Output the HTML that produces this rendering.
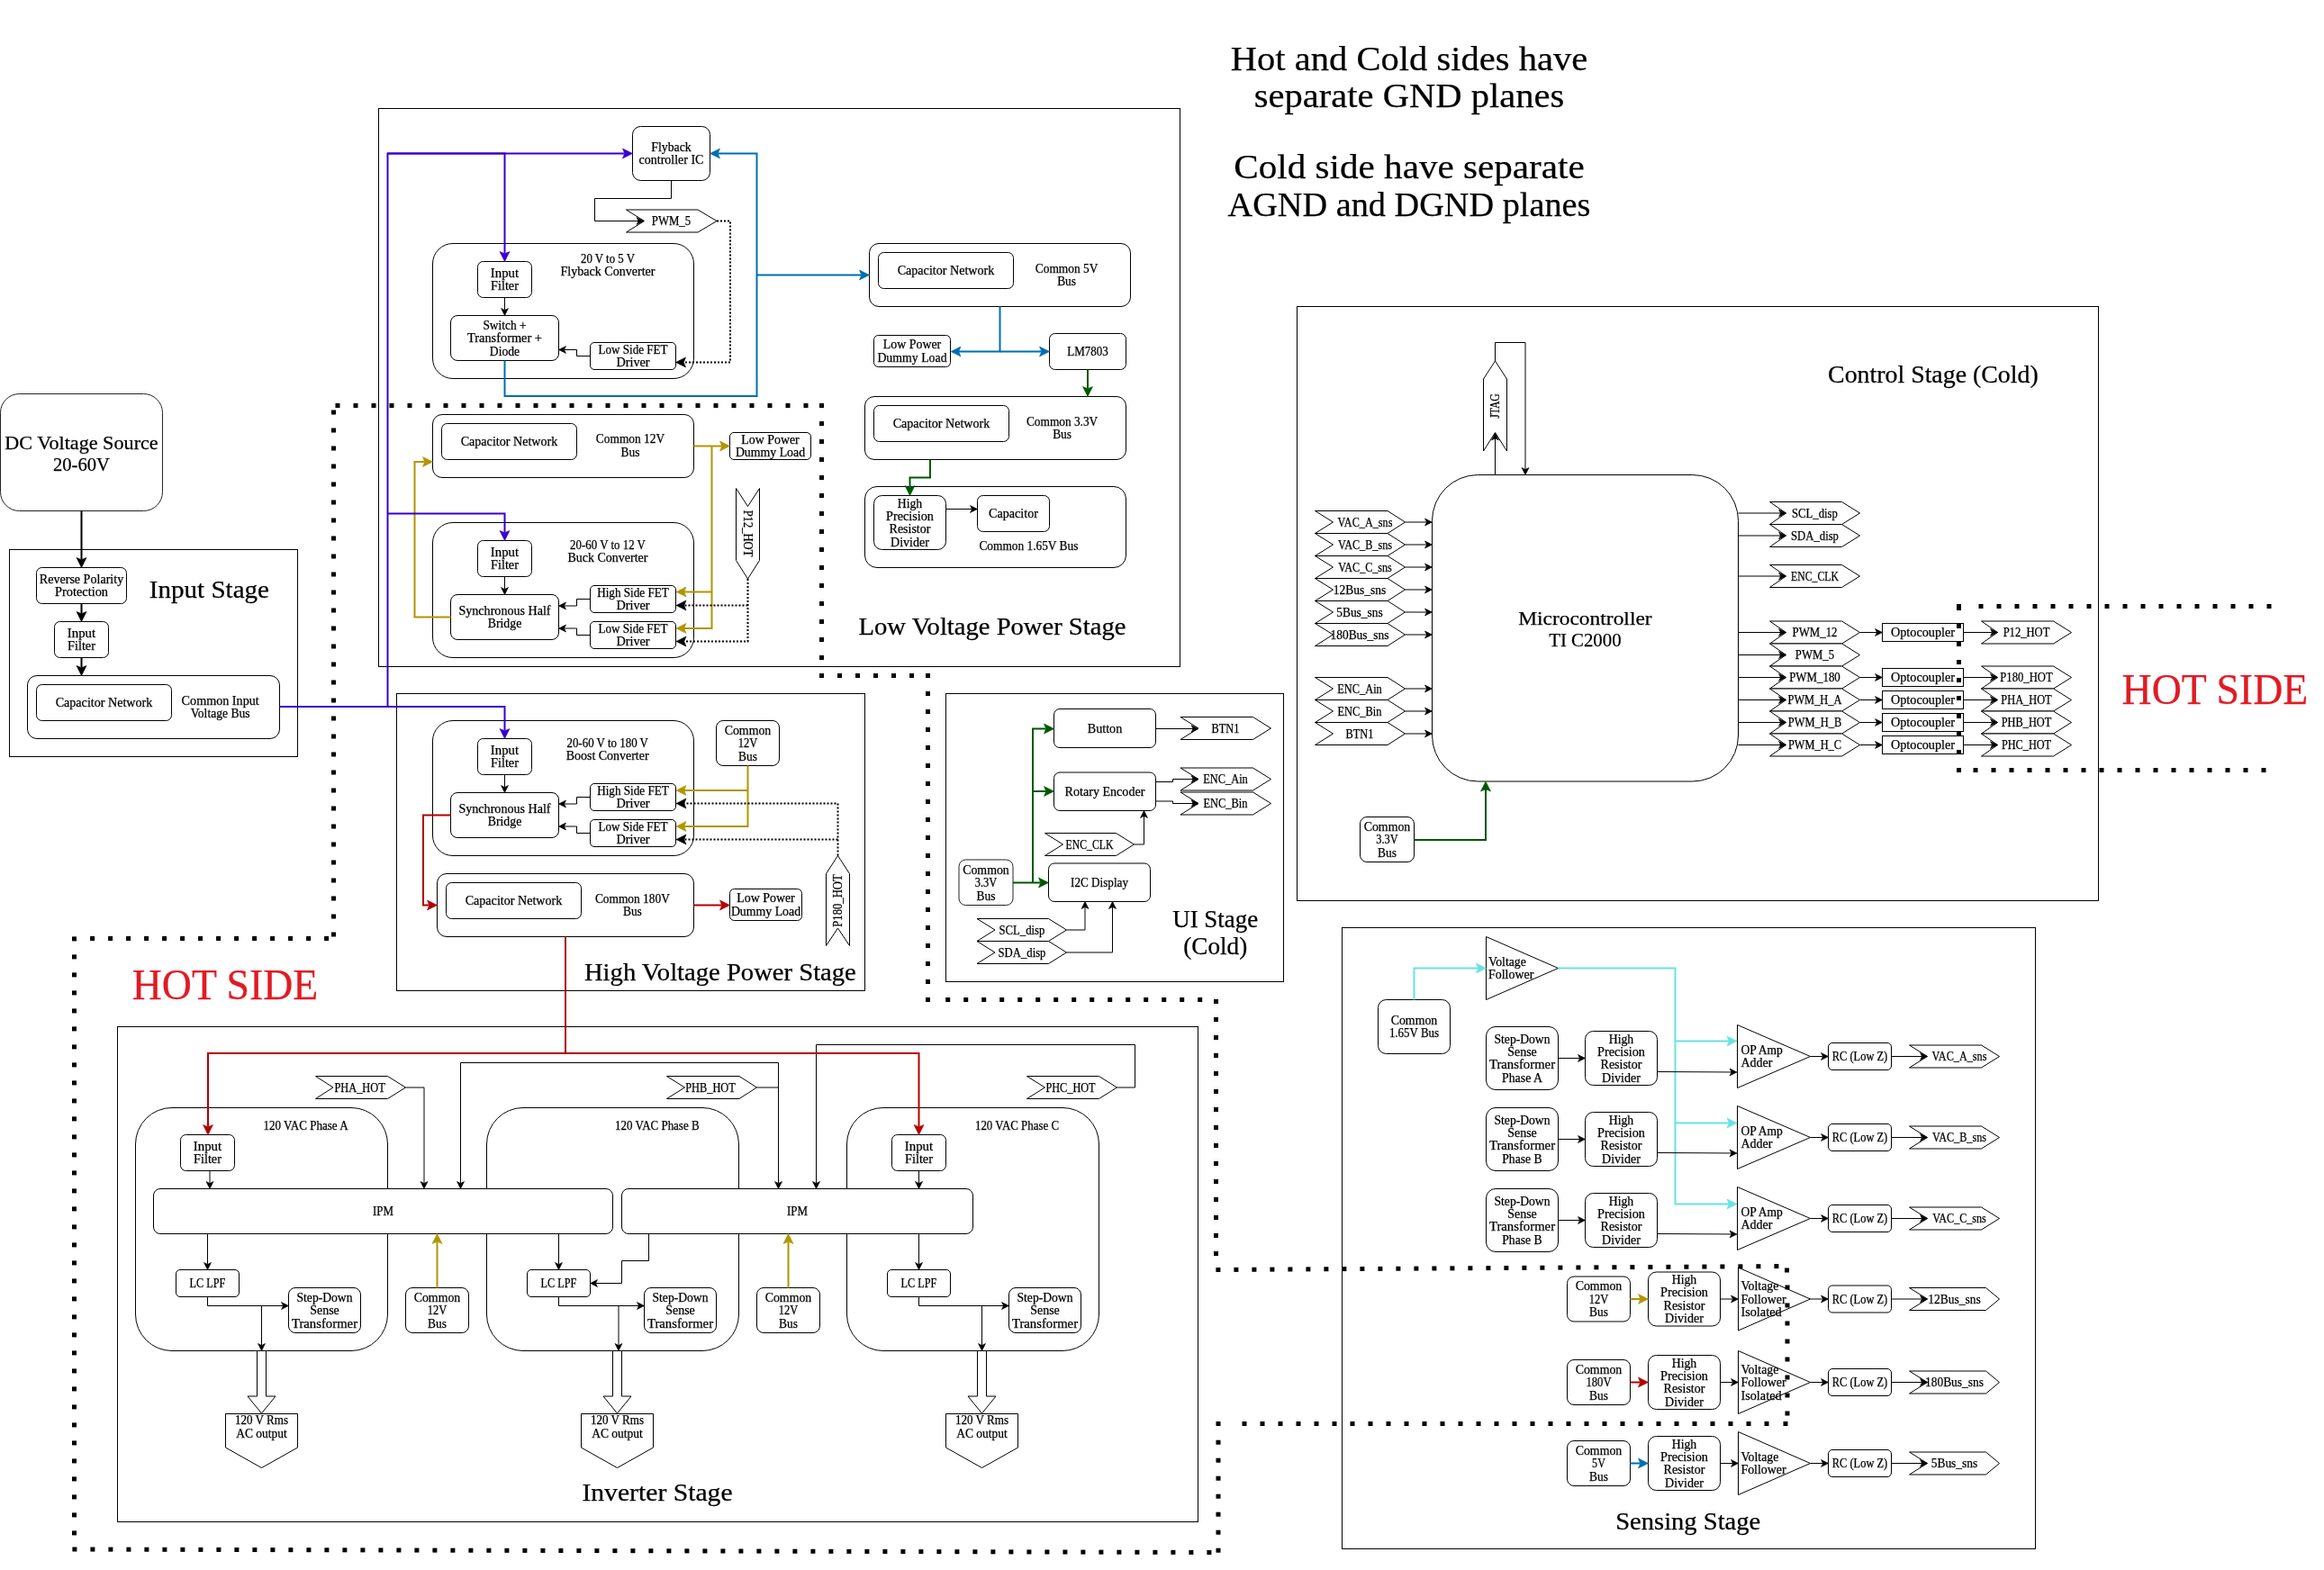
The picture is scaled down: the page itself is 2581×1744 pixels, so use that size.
<!DOCTYPE html>
<html><head><meta charset="utf-8"><style>
html,body{margin:0;padding:0;background:#fff;}
svg{display:block;will-change:transform;}
text{font-family:"Liberation Serif",serif;stroke-width:0.25px;}
</style></head><body>
<svg width="2581" height="1744" viewBox="0 0 2581 1744">
<rect x="0" y="0" width="2581" height="1744" fill="#fff"/>
<text x="1565" y="78.1" font-size="38.88" text-anchor="middle" fill="#000" stroke="#000" textLength="396.4" lengthAdjust="spacingAndGlyphs">Hot and Cold sides have</text>
<text x="1565" y="119.4" font-size="38.88" text-anchor="middle" fill="#000" stroke="#000" textLength="344.6" lengthAdjust="spacingAndGlyphs">separate GND planes</text>
<text x="1565" y="197.6" font-size="38.88" text-anchor="middle" fill="#000" stroke="#000" textLength="389.6" lengthAdjust="spacingAndGlyphs">Cold side have separate</text>
<text x="1565" y="240.2" font-size="38.88" text-anchor="middle" fill="#000" stroke="#000" textLength="403" lengthAdjust="spacingAndGlyphs">AGND and DGND planes</text>
<rect x="0.5" y="437.5" width="180.0" height="130.0" rx="21" ry="21" fill="#fff" stroke="#222" stroke-width="1"/>
<text x="90.5" y="499" font-size="22.0" text-anchor="middle" fill="#000" stroke="#000" textLength="170.4" lengthAdjust="spacingAndGlyphs">DC Voltage Source</text>
<text x="90.5" y="522.8" font-size="22.0" text-anchor="middle" fill="#000" stroke="#000" textLength="63" lengthAdjust="spacingAndGlyphs">20-60V</text>
<rect x="10.5" y="610.5" width="320.0" height="230.0" rx="0" ry="0" fill="none" stroke="#000" stroke-width="1"/>
<rect x="40.5" y="630.5" width="100.0" height="40.0" rx="6" ry="6" fill="#fff" stroke="#000" stroke-width="1"/>
<text font-size="13.92" text-anchor="middle" fill="#000" stroke="#000"><tspan x="90.5" y="647.96" textLength="93.42" lengthAdjust="spacingAndGlyphs">Reverse Polarity</tspan><tspan x="90.5" y="662.36" textLength="59.11" lengthAdjust="spacingAndGlyphs">Protection</tspan></text>
<text x="232.4" y="664" font-size="26.4" text-anchor="middle" fill="#000" stroke="#000" textLength="133.2" lengthAdjust="spacingAndGlyphs">Input Stage</text>
<rect x="60.5" y="690.5" width="60.0" height="40.0" rx="6" ry="6" fill="#fff" stroke="#000" stroke-width="1"/>
<text font-size="13.92" text-anchor="middle" fill="#000" stroke="#000"><tspan x="90.5" y="707.96" textLength="31.36" lengthAdjust="spacingAndGlyphs">Input</tspan><tspan x="90.5" y="722.36" textLength="30.94" lengthAdjust="spacingAndGlyphs">Filter</tspan></text>
<rect x="30.5" y="750.5" width="280.0" height="70.0" rx="10.5" ry="10.5" fill="#fff" stroke="#000" stroke-width="1"/>
<rect x="40.5" y="760.5" width="150.0" height="40.0" rx="6" ry="6" fill="#fff" stroke="#000" stroke-width="1"/>
<text font-size="13.92" text-anchor="middle" fill="#000" stroke="#000"><tspan x="115.5" y="785.16" textLength="107.66" lengthAdjust="spacingAndGlyphs">Capacitor Network</tspan></text>
<text font-size="13.92" text-anchor="middle" fill="#000" stroke="#000"><tspan x="244.7" y="782.96" textLength="86.12" lengthAdjust="spacingAndGlyphs">Common Input</tspan><tspan x="244.7" y="797.36" textLength="65.89" lengthAdjust="spacingAndGlyphs">Voltage Bus</tspan></text>
<rect x="420.5" y="120.5" width="890.0" height="620.0" rx="0" ry="0" fill="none" stroke="#000" stroke-width="1"/>
<rect x="702.5" y="140.5" width="86.0" height="60.0" rx="9" ry="9" fill="#fff" stroke="#000" stroke-width="1"/>
<text font-size="13.92" text-anchor="middle" fill="#000" stroke="#000"><tspan x="745.5" y="167.96" textLength="44.64" lengthAdjust="spacingAndGlyphs">Flyback</tspan><tspan x="745.5" y="182.36" textLength="71.78" lengthAdjust="spacingAndGlyphs">controller IC</tspan></text>
<polygon points="695.5,233 775,233 796,245.5 775,258 695.5,258 715.5,245.5" fill="#fff" stroke="#000" stroke-width="1" stroke-linejoin="miter"/>
<text font-size="13.92" text-anchor="middle" fill="#000" stroke="#000"><tspan x="745.5" y="250.16" textLength="43.3" lengthAdjust="spacingAndGlyphs">PWM_5</tspan></text>
<rect x="480.5" y="270.5" width="290.0" height="150.0" rx="22.5" ry="22.5" fill="#fff" stroke="#000" stroke-width="1"/>
<text font-size="13.92" text-anchor="middle" fill="#000" stroke="#000"><tspan x="675" y="291.76" textLength="59.95" lengthAdjust="spacingAndGlyphs">20 V to 5 V</tspan><tspan x="675" y="306.16" textLength="105.11" lengthAdjust="spacingAndGlyphs">Flyback Converter</tspan></text>
<rect x="530.5" y="290.5" width="60.0" height="40.0" rx="6" ry="6" fill="#fff" stroke="#000" stroke-width="1"/>
<text font-size="13.92" text-anchor="middle" fill="#000" stroke="#000"><tspan x="560.5" y="307.96" textLength="31.36" lengthAdjust="spacingAndGlyphs">Input</tspan><tspan x="560.5" y="322.36" textLength="30.94" lengthAdjust="spacingAndGlyphs">Filter</tspan></text>
<rect x="500.5" y="350.5" width="120.0" height="50.0" rx="7.5" ry="7.5" fill="#fff" stroke="#000" stroke-width="1"/>
<text font-size="13.92" text-anchor="middle" fill="#000" stroke="#000"><tspan x="560.5" y="365.76" textLength="48.17" lengthAdjust="spacingAndGlyphs">Switch +</tspan><tspan x="560.5" y="380.16" textLength="82.92" lengthAdjust="spacingAndGlyphs">Transformer +</tspan><tspan x="560.5" y="394.56" textLength="33.28" lengthAdjust="spacingAndGlyphs">Diode</tspan></text>
<rect x="655.5" y="380.5" width="95.0" height="30.0" rx="4.5" ry="4.5" fill="#fff" stroke="#000" stroke-width="1"/>
<text font-size="13.92" text-anchor="middle" fill="#000" stroke="#000"><tspan x="703" y="392.96" textLength="77.06" lengthAdjust="spacingAndGlyphs">Low Side FET</tspan><tspan x="703" y="407.36" textLength="37.25" lengthAdjust="spacingAndGlyphs">Driver</tspan></text>
<rect x="965.5" y="270.5" width="290.0" height="70.0" rx="10.5" ry="10.5" fill="#fff" stroke="#000" stroke-width="1"/>
<rect x="975.5" y="280.5" width="150.0" height="40.0" rx="6" ry="6" fill="#fff" stroke="#000" stroke-width="1"/>
<text font-size="13.92" text-anchor="middle" fill="#000" stroke="#000"><tspan x="1050.5" y="305.16" textLength="107.66" lengthAdjust="spacingAndGlyphs">Capacitor Network</tspan></text>
<text font-size="13.92" text-anchor="middle" fill="#000" stroke="#000"><tspan x="1184.6" y="302.96" textLength="69.58" lengthAdjust="spacingAndGlyphs">Common 5V</tspan><tspan x="1184.6" y="317.36" textLength="20.89" lengthAdjust="spacingAndGlyphs">Bus</tspan></text>
<rect x="970.5" y="372.5" width="85.0" height="35.0" rx="5" ry="5" fill="#fff" stroke="#000" stroke-width="1"/>
<text font-size="13.92" text-anchor="middle" fill="#000" stroke="#000"><tspan x="1013" y="387.46" textLength="64.45" lengthAdjust="spacingAndGlyphs">Low Power</tspan><tspan x="1013" y="401.86" textLength="77.22" lengthAdjust="spacingAndGlyphs">Dummy Load</tspan></text>
<rect x="1165.5" y="370.5" width="85.0" height="40.0" rx="6" ry="6" fill="#fff" stroke="#000" stroke-width="1"/>
<text font-size="13.92" text-anchor="middle" fill="#000" stroke="#000"><tspan x="1208" y="395.16" textLength="45.58" lengthAdjust="spacingAndGlyphs">LM7803</tspan></text>
<rect x="960.5" y="440.5" width="290.0" height="70.0" rx="10.5" ry="10.5" fill="#fff" stroke="#000" stroke-width="1"/>
<rect x="970.5" y="450.5" width="150.0" height="40.0" rx="6" ry="6" fill="#fff" stroke="#000" stroke-width="1"/>
<text font-size="13.92" text-anchor="middle" fill="#000" stroke="#000"><tspan x="1045.5" y="475.16" textLength="107.66" lengthAdjust="spacingAndGlyphs">Capacitor Network</tspan></text>
<text font-size="13.92" text-anchor="middle" fill="#000" stroke="#000"><tspan x="1179.6" y="473.06" textLength="79.28" lengthAdjust="spacingAndGlyphs">Common 3.3V</tspan><tspan x="1179.6" y="487.46" textLength="20.89" lengthAdjust="spacingAndGlyphs">Bus</tspan></text>
<rect x="960.5" y="540.5" width="290.0" height="90.0" rx="13.5" ry="13.5" fill="#fff" stroke="#000" stroke-width="1"/>
<rect x="970.5" y="550.5" width="80.0" height="60.0" rx="9" ry="9" fill="#fff" stroke="#000" stroke-width="1"/>
<text font-size="13.92" text-anchor="middle" fill="#000" stroke="#000"><tspan x="1010.5" y="563.56" textLength="27.44" lengthAdjust="spacingAndGlyphs">High</tspan><tspan x="1010.5" y="577.96" textLength="52.98" lengthAdjust="spacingAndGlyphs">Precision</tspan><tspan x="1010.5" y="592.36" textLength="45.77" lengthAdjust="spacingAndGlyphs">Resistor</tspan><tspan x="1010.5" y="606.76" textLength="42.8" lengthAdjust="spacingAndGlyphs">Divider</tspan></text>
<rect x="1085.5" y="550.5" width="80.0" height="40.0" rx="6" ry="6" fill="#fff" stroke="#000" stroke-width="1"/>
<text font-size="13.92" text-anchor="middle" fill="#000" stroke="#000"><tspan x="1125.5" y="575.16" textLength="54.8" lengthAdjust="spacingAndGlyphs">Capacitor</tspan></text>
<text font-size="13.92" text-anchor="middle" fill="#000" stroke="#000"><tspan x="1142.4" y="611.16" textLength="109.98" lengthAdjust="spacingAndGlyphs">Common 1.65V Bus</tspan></text>
<text x="1102" y="705.4" font-size="26.4" text-anchor="middle" fill="#000" stroke="#000" textLength="296.8" lengthAdjust="spacingAndGlyphs">Low Voltage Power Stage</text>
<rect x="480.5" y="460.5" width="290.0" height="70.0" rx="10.5" ry="10.5" fill="#fff" stroke="#000" stroke-width="1"/>
<rect x="490.5" y="470.5" width="150.0" height="40.0" rx="6" ry="6" fill="#fff" stroke="#000" stroke-width="1"/>
<text font-size="13.92" text-anchor="middle" fill="#000" stroke="#000"><tspan x="565.5" y="495.16" textLength="107.66" lengthAdjust="spacingAndGlyphs">Capacitor Network</tspan></text>
<text font-size="13.92" text-anchor="middle" fill="#000" stroke="#000"><tspan x="700" y="492.46" textLength="76.28" lengthAdjust="spacingAndGlyphs">Common 12V</tspan><tspan x="700" y="506.86" textLength="20.89" lengthAdjust="spacingAndGlyphs">Bus</tspan></text>
<rect x="810.5" y="480.5" width="90.0" height="30.0" rx="4.5" ry="4.5" fill="#fff" stroke="#000" stroke-width="1"/>
<text font-size="13.92" text-anchor="middle" fill="#000" stroke="#000"><tspan x="855.5" y="492.96" textLength="64.45" lengthAdjust="spacingAndGlyphs">Low Power</tspan><tspan x="855.5" y="507.36" textLength="77.22" lengthAdjust="spacingAndGlyphs">Dummy Load</tspan></text>
<rect x="480.5" y="580.5" width="290.0" height="150.0" rx="22.5" ry="22.5" fill="#fff" stroke="#000" stroke-width="1"/>
<text font-size="13.92" text-anchor="middle" fill="#000" stroke="#000"><tspan x="675" y="609.66" textLength="83.8" lengthAdjust="spacingAndGlyphs">20-60 V to 12 V</tspan><tspan x="675" y="624.06" textLength="88.88" lengthAdjust="spacingAndGlyphs">Buck Converter</tspan></text>
<rect x="530.5" y="600.5" width="60.0" height="40.0" rx="6" ry="6" fill="#fff" stroke="#000" stroke-width="1"/>
<text font-size="13.92" text-anchor="middle" fill="#000" stroke="#000"><tspan x="560.5" y="617.96" textLength="31.36" lengthAdjust="spacingAndGlyphs">Input</tspan><tspan x="560.5" y="632.36" textLength="30.94" lengthAdjust="spacingAndGlyphs">Filter</tspan></text>
<rect x="500.5" y="660.5" width="120.0" height="50.0" rx="7.5" ry="7.5" fill="#fff" stroke="#000" stroke-width="1"/>
<text font-size="13.92" text-anchor="middle" fill="#000" stroke="#000"><tspan x="560.5" y="682.96" textLength="102.16" lengthAdjust="spacingAndGlyphs">Synchronous Half</tspan><tspan x="560.5" y="697.36" textLength="37.59" lengthAdjust="spacingAndGlyphs">Bridge</tspan></text>
<rect x="655.5" y="650.5" width="95.0" height="30.0" rx="4.5" ry="4.5" fill="#fff" stroke="#000" stroke-width="1"/>
<text font-size="13.92" text-anchor="middle" fill="#000" stroke="#000"><tspan x="703" y="662.96" textLength="79.75" lengthAdjust="spacingAndGlyphs">High Side FET</tspan><tspan x="703" y="677.36" textLength="37.25" lengthAdjust="spacingAndGlyphs">Driver</tspan></text>
<rect x="655.5" y="690.5" width="95.0" height="30.0" rx="4.5" ry="4.5" fill="#fff" stroke="#000" stroke-width="1"/>
<text font-size="13.92" text-anchor="middle" fill="#000" stroke="#000"><tspan x="703" y="702.96" textLength="77.06" lengthAdjust="spacingAndGlyphs">Low Side FET</tspan><tspan x="703" y="717.36" textLength="37.25" lengthAdjust="spacingAndGlyphs">Driver</tspan></text>
<polygon points="817.5,542.5 830.5,562.5 843.5,542.5 843.5,622.5 830.5,643 817.5,622.5" fill="#fff" stroke="#000" stroke-width="1" stroke-linejoin="miter"/>
<text font-size="13.92" text-anchor="middle" fill="#000" stroke="#000" transform="rotate(90 830.5 592.5)"><tspan x="830.5" y="597.16" textLength="51.72" lengthAdjust="spacingAndGlyphs">P12_HOT</tspan></text>
<rect x="440.5" y="770.5" width="520.0" height="330.0" rx="0" ry="0" fill="none" stroke="#000" stroke-width="1"/>
<rect x="480.5" y="800.5" width="290.0" height="150.0" rx="22.5" ry="22.5" fill="#fff" stroke="#000" stroke-width="1"/>
<text font-size="13.92" text-anchor="middle" fill="#000" stroke="#000"><tspan x="674.7" y="829.86" textLength="90.52" lengthAdjust="spacingAndGlyphs">20-60 V to 180 V</tspan><tspan x="674.7" y="844.26" textLength="91.81" lengthAdjust="spacingAndGlyphs">Boost Converter</tspan></text>
<rect x="530.5" y="820.5" width="60.0" height="40.0" rx="6" ry="6" fill="#fff" stroke="#000" stroke-width="1"/>
<text font-size="13.92" text-anchor="middle" fill="#000" stroke="#000"><tspan x="560.5" y="837.96" textLength="31.36" lengthAdjust="spacingAndGlyphs">Input</tspan><tspan x="560.5" y="852.36" textLength="30.94" lengthAdjust="spacingAndGlyphs">Filter</tspan></text>
<rect x="500.5" y="880.5" width="120.0" height="50.0" rx="7.5" ry="7.5" fill="#fff" stroke="#000" stroke-width="1"/>
<text font-size="13.92" text-anchor="middle" fill="#000" stroke="#000"><tspan x="560.5" y="902.96" textLength="102.16" lengthAdjust="spacingAndGlyphs">Synchronous Half</tspan><tspan x="560.5" y="917.36" textLength="37.59" lengthAdjust="spacingAndGlyphs">Bridge</tspan></text>
<rect x="655.5" y="870.5" width="95.0" height="30.0" rx="4.5" ry="4.5" fill="#fff" stroke="#000" stroke-width="1"/>
<text font-size="13.92" text-anchor="middle" fill="#000" stroke="#000"><tspan x="703" y="882.96" textLength="79.75" lengthAdjust="spacingAndGlyphs">High Side FET</tspan><tspan x="703" y="897.36" textLength="37.25" lengthAdjust="spacingAndGlyphs">Driver</tspan></text>
<rect x="655.5" y="910.5" width="95.0" height="30.0" rx="4.5" ry="4.5" fill="#fff" stroke="#000" stroke-width="1"/>
<text font-size="13.92" text-anchor="middle" fill="#000" stroke="#000"><tspan x="703" y="922.96" textLength="77.06" lengthAdjust="spacingAndGlyphs">Low Side FET</tspan><tspan x="703" y="937.36" textLength="37.25" lengthAdjust="spacingAndGlyphs">Driver</tspan></text>
<rect x="795.5" y="800.5" width="70.0" height="50.0" rx="7.5" ry="7.5" fill="#fff" stroke="#000" stroke-width="1"/>
<text font-size="13.92" text-anchor="middle" fill="#000" stroke="#000"><tspan x="830.5" y="815.76" textLength="51.64" lengthAdjust="spacingAndGlyphs">Common</tspan><tspan x="830.5" y="830.16" textLength="21.53" lengthAdjust="spacingAndGlyphs">12V</tspan><tspan x="830.5" y="844.56" textLength="20.89" lengthAdjust="spacingAndGlyphs">Bus</tspan></text>
<polygon points="930.5,950.5 943.5,970.5 943.5,1050.5 930.5,1031 917.5,1050.5 917.5,970.5" fill="#fff" stroke="#000" stroke-width="1" stroke-linejoin="miter"/>
<text font-size="13.92" text-anchor="middle" fill="#000" stroke="#000" transform="rotate(-90 930.5 1000.5)"><tspan x="930.5" y="1005.16" textLength="58.42" lengthAdjust="spacingAndGlyphs">P180_HOT</tspan></text>
<rect x="485.5" y="970.5" width="285.0" height="70.0" rx="10.5" ry="10.5" fill="#fff" stroke="#000" stroke-width="1"/>
<rect x="495.5" y="980.5" width="150.0" height="40.0" rx="6" ry="6" fill="#fff" stroke="#000" stroke-width="1"/>
<text font-size="13.92" text-anchor="middle" fill="#000" stroke="#000"><tspan x="570.5" y="1005.16" textLength="107.66" lengthAdjust="spacingAndGlyphs">Capacitor Network</tspan></text>
<text font-size="13.92" text-anchor="middle" fill="#000" stroke="#000"><tspan x="702.4" y="1002.96" textLength="82.98" lengthAdjust="spacingAndGlyphs">Common 180V</tspan><tspan x="702.4" y="1017.36" textLength="20.89" lengthAdjust="spacingAndGlyphs">Bus</tspan></text>
<rect x="810.5" y="987.5" width="80.0" height="35.0" rx="5" ry="5" fill="#fff" stroke="#000" stroke-width="1"/>
<text font-size="13.92" text-anchor="middle" fill="#000" stroke="#000"><tspan x="850.5" y="1002.46" textLength="64.45" lengthAdjust="spacingAndGlyphs">Low Power</tspan><tspan x="850.5" y="1016.86" textLength="77.22" lengthAdjust="spacingAndGlyphs">Dummy Load</tspan></text>
<text x="799.9" y="1089.4" font-size="26.4" text-anchor="middle" fill="#000" stroke="#000" textLength="301.9" lengthAdjust="spacingAndGlyphs">High Voltage Power Stage</text>
<rect x="1050.5" y="770.5" width="375.0" height="320.0" rx="0" ry="0" fill="none" stroke="#000" stroke-width="1"/>
<rect x="1170.5" y="787.5" width="113.0" height="43.0" rx="6.5" ry="6.5" fill="#fff" stroke="#000" stroke-width="1"/>
<text font-size="13.92" text-anchor="middle" fill="#000" stroke="#000"><tspan x="1227" y="813.66" textLength="38.59" lengthAdjust="spacingAndGlyphs">Button</tspan></text>
<polygon points="1311,796.5 1391.5,796.5 1411.5,809.0 1391.5,821.5 1311,821.5 1331,809.0" fill="#fff" stroke="#000" stroke-width="1" stroke-linejoin="miter"/>
<text font-size="13.92" text-anchor="middle" fill="#000" stroke="#000"><tspan x="1361" y="813.66" textLength="30.84" lengthAdjust="spacingAndGlyphs">BTN1</tspan></text>
<rect x="1170.5" y="858" width="113.0" height="42.5" rx="6.5" ry="6.5" fill="#fff" stroke="#000" stroke-width="1"/>
<text font-size="13.92" text-anchor="middle" fill="#000" stroke="#000"><tspan x="1227" y="883.66" textLength="88.83" lengthAdjust="spacingAndGlyphs">Rotary Encoder</tspan></text>
<polygon points="1311,853 1391.5,853 1411.5,865.5 1391.5,878 1311,878 1331,865.5" fill="#fff" stroke="#000" stroke-width="1" stroke-linejoin="miter"/>
<text font-size="13.92" text-anchor="middle" fill="#000" stroke="#000"><tspan x="1361" y="870.16" textLength="49.56" lengthAdjust="spacingAndGlyphs">ENC_Ain</tspan></text>
<polygon points="1311,880 1391.5,880 1411.5,892.5 1391.5,905 1311,905 1331,892.5" fill="#fff" stroke="#000" stroke-width="1" stroke-linejoin="miter"/>
<text font-size="13.92" text-anchor="middle" fill="#000" stroke="#000"><tspan x="1361" y="897.16" textLength="48.94" lengthAdjust="spacingAndGlyphs">ENC_Bin</tspan></text>
<polygon points="1160.5,925.5 1239.5,925.5 1259.5,938.0 1239.5,950.5 1160.5,950.5 1180.5,938.0" fill="#fff" stroke="#000" stroke-width="1" stroke-linejoin="miter"/>
<text font-size="13.92" text-anchor="middle" fill="#000" stroke="#000"><tspan x="1210" y="942.66" textLength="52.77" lengthAdjust="spacingAndGlyphs">ENC_CLK</tspan></text>
<rect x="1065" y="955" width="60" height="50.5" rx="7.5" ry="7.5" fill="#fff" stroke="#222" stroke-width="1"/>
<text font-size="13.92" text-anchor="middle" fill="#000" stroke="#000"><tspan x="1095" y="970.76" textLength="51.64" lengthAdjust="spacingAndGlyphs">Common</tspan><tspan x="1095" y="985.16" textLength="24.53" lengthAdjust="spacingAndGlyphs">3.3V</tspan><tspan x="1095" y="999.56" textLength="20.89" lengthAdjust="spacingAndGlyphs">Bus</tspan></text>
<rect x="1164.5" y="959" width="113.0" height="42.5" rx="6.5" ry="6.5" fill="#fff" stroke="#000" stroke-width="1"/>
<text font-size="13.92" text-anchor="middle" fill="#000" stroke="#000"><tspan x="1221" y="984.66" textLength="63.97" lengthAdjust="spacingAndGlyphs">I2C Display</tspan></text>
<polygon points="1085,1020.5 1164.5,1020.5 1184.5,1033.0 1164.5,1045.5 1085,1045.5 1105,1033.0" fill="#fff" stroke="#000" stroke-width="1" stroke-linejoin="miter"/>
<text font-size="13.92" text-anchor="middle" fill="#000" stroke="#000"><tspan x="1135" y="1037.66" textLength="50.88" lengthAdjust="spacingAndGlyphs">SCL_disp</tspan></text>
<polygon points="1085,1045.5 1164.5,1045.5 1184.5,1058.0 1164.5,1070.5 1085,1070.5 1105,1058.0" fill="#fff" stroke="#000" stroke-width="1" stroke-linejoin="miter"/>
<text font-size="13.92" text-anchor="middle" fill="#000" stroke="#000"><tspan x="1135" y="1062.66" textLength="52.97" lengthAdjust="spacingAndGlyphs">SDA_disp</tspan></text>
<text x="1349.7" y="1029.8" font-size="26.4" text-anchor="middle" fill="#000" stroke="#000" textLength="95" lengthAdjust="spacingAndGlyphs">UI Stage</text>
<text x="1349.7" y="1060" font-size="26.4" text-anchor="middle" fill="#000" stroke="#000" textLength="71" lengthAdjust="spacingAndGlyphs">(Cold)</text>
<rect x="1440.5" y="340.5" width="890.0" height="660.0" rx="0" ry="0" fill="none" stroke="#000" stroke-width="1"/>
<text x="2146.9" y="425.3" font-size="26.4" text-anchor="middle" fill="#000" stroke="#000" textLength="233.6" lengthAdjust="spacingAndGlyphs">Control Stage (Cold)</text>
<polygon points="1660.5,401 1673.5,421 1673.5,501 1660.5,480.5 1647.5,501 1647.5,421" fill="#fff" stroke="#000" stroke-width="1" stroke-linejoin="miter"/>
<text font-size="13.92" text-anchor="middle" fill="#000" stroke="#000" transform="rotate(-90 1660.5 451)"><tspan x="1660.5" y="455.66" textLength="27.72" lengthAdjust="spacingAndGlyphs">JTAG</tspan></text>
<rect x="1590.5" y="527.5" width="340.0" height="340.5" rx="51" ry="51" fill="#fff" stroke="#000" stroke-width="1"/>
<text x="1760.4" y="694" font-size="22.0" text-anchor="middle" fill="#000" stroke="#000" textLength="148.5" lengthAdjust="spacingAndGlyphs">Microcontroller</text>
<text x="1760.4" y="717.6" font-size="22.0" text-anchor="middle" fill="#000" stroke="#000" textLength="80.5" lengthAdjust="spacingAndGlyphs">TI C2000</text>
<polygon points="1460.5,567.5 1541.0,567.5 1560.5,580.0 1541.0,592.5 1460.5,592.5 1480.5,580.0" fill="#fff" stroke="#000" stroke-width="1" stroke-linejoin="miter"/>
<text font-size="13.92" text-anchor="middle" fill="#000" stroke="#000"><tspan x="1516" y="584.66" textLength="60.78" lengthAdjust="spacingAndGlyphs">VAC_A_sns</tspan></text>
<polygon points="1460.5,592.5 1541.0,592.5 1560.5,605.0 1541.0,617.5 1460.5,617.5 1480.5,605.0" fill="#fff" stroke="#000" stroke-width="1" stroke-linejoin="miter"/>
<text font-size="13.92" text-anchor="middle" fill="#000" stroke="#000"><tspan x="1516" y="609.66" textLength="60.17" lengthAdjust="spacingAndGlyphs">VAC_B_sns</tspan></text>
<polygon points="1460.5,617.5 1541.0,617.5 1560.5,630.0 1541.0,642.5 1460.5,642.5 1480.5,630.0" fill="#fff" stroke="#000" stroke-width="1" stroke-linejoin="miter"/>
<text font-size="13.92" text-anchor="middle" fill="#000" stroke="#000"><tspan x="1516" y="634.66" textLength="59.69" lengthAdjust="spacingAndGlyphs">VAC_C_sns</tspan></text>
<polygon points="1460.5,642.5 1541.0,642.5 1560.5,655.0 1541.0,667.5 1460.5,667.5 1480.5,655.0" fill="#fff" stroke="#000" stroke-width="1" stroke-linejoin="miter"/>
<text font-size="13.92" text-anchor="middle" fill="#000" stroke="#000"><tspan x="1510" y="659.66" textLength="58.38" lengthAdjust="spacingAndGlyphs">12Bus_sns</tspan></text>
<polygon points="1460.5,667.5 1541.0,667.5 1560.5,680.0 1541.0,692.5 1460.5,692.5 1480.5,680.0" fill="#fff" stroke="#000" stroke-width="1" stroke-linejoin="miter"/>
<text font-size="13.92" text-anchor="middle" fill="#000" stroke="#000"><tspan x="1510" y="684.66" textLength="51.67" lengthAdjust="spacingAndGlyphs">5Bus_sns</tspan></text>
<polygon points="1460.5,692.5 1541.0,692.5 1560.5,705.0 1541.0,717.5 1460.5,717.5 1480.5,705.0" fill="#fff" stroke="#000" stroke-width="1" stroke-linejoin="miter"/>
<text font-size="13.92" text-anchor="middle" fill="#000" stroke="#000"><tspan x="1510" y="709.66" textLength="65.08" lengthAdjust="spacingAndGlyphs">180Bus_sns</tspan></text>
<polygon points="1460.5,752.5 1541.0,752.5 1560.5,765.0 1541.0,777.5 1460.5,777.5 1480.5,765.0" fill="#fff" stroke="#000" stroke-width="1" stroke-linejoin="miter"/>
<text font-size="13.92" text-anchor="middle" fill="#000" stroke="#000"><tspan x="1510" y="769.66" textLength="49.56" lengthAdjust="spacingAndGlyphs">ENC_Ain</tspan></text>
<polygon points="1460.5,777.5 1541.0,777.5 1560.5,790.0 1541.0,802.5 1460.5,802.5 1480.5,790.0" fill="#fff" stroke="#000" stroke-width="1" stroke-linejoin="miter"/>
<text font-size="13.92" text-anchor="middle" fill="#000" stroke="#000"><tspan x="1510" y="794.66" textLength="48.94" lengthAdjust="spacingAndGlyphs">ENC_Bin</tspan></text>
<polygon points="1460.5,802.5 1541.0,802.5 1560.5,815.0 1541.0,827.5 1460.5,827.5 1480.5,815.0" fill="#fff" stroke="#000" stroke-width="1" stroke-linejoin="miter"/>
<text font-size="13.92" text-anchor="middle" fill="#000" stroke="#000"><tspan x="1510" y="819.66" textLength="30.84" lengthAdjust="spacingAndGlyphs">BTN1</tspan></text>
<polygon points="1965.5,557.5 2045.5,557.5 2065.5,570.0 2045.5,582.5 1965.5,582.5 1983.5,570.0" fill="#fff" stroke="#000" stroke-width="1" stroke-linejoin="miter"/>
<text font-size="13.92" text-anchor="middle" fill="#000" stroke="#000"><tspan x="2015.5" y="574.66" textLength="50.88" lengthAdjust="spacingAndGlyphs">SCL_disp</tspan></text>
<polygon points="1965.5,582.5 2045.5,582.5 2065.5,595.0 2045.5,607.5 1965.5,607.5 1983.5,595.0" fill="#fff" stroke="#000" stroke-width="1" stroke-linejoin="miter"/>
<text font-size="13.92" text-anchor="middle" fill="#000" stroke="#000"><tspan x="2015.5" y="599.66" textLength="52.97" lengthAdjust="spacingAndGlyphs">SDA_disp</tspan></text>
<polygon points="1965.5,627.5 2045.5,627.5 2065.5,640.0 2045.5,652.5 1965.5,652.5 1983.5,640.0" fill="#fff" stroke="#000" stroke-width="1" stroke-linejoin="miter"/>
<text font-size="13.92" text-anchor="middle" fill="#000" stroke="#000"><tspan x="2015.5" y="644.66" textLength="52.77" lengthAdjust="spacingAndGlyphs">ENC_CLK</tspan></text>
<polygon points="1965.5,690 2045.5,690 2065.5,702.5 2045.5,715 1965.5,715 1983.5,702.5" fill="#fff" stroke="#000" stroke-width="1" stroke-linejoin="miter"/>
<text font-size="13.92" text-anchor="middle" fill="#000" stroke="#000"><tspan x="2015.5" y="707.16" textLength="50" lengthAdjust="spacingAndGlyphs">PWM_12</tspan></text>
<polygon points="1965.5,715 2045.5,715 2065.5,727.5 2045.5,740 1965.5,740 1983.5,727.5" fill="#fff" stroke="#000" stroke-width="1" stroke-linejoin="miter"/>
<text font-size="13.92" text-anchor="middle" fill="#000" stroke="#000"><tspan x="2015.5" y="732.16" textLength="43.3" lengthAdjust="spacingAndGlyphs">PWM_5</tspan></text>
<polygon points="1965.5,740 2045.5,740 2065.5,752.5 2045.5,765 1965.5,765 1983.5,752.5" fill="#fff" stroke="#000" stroke-width="1" stroke-linejoin="miter"/>
<text font-size="13.92" text-anchor="middle" fill="#000" stroke="#000"><tspan x="2015.5" y="757.16" textLength="56.7" lengthAdjust="spacingAndGlyphs">PWM_180</tspan></text>
<polygon points="1965.5,765 2045.5,765 2065.5,777.5 2045.5,790 1965.5,790 1983.5,777.5" fill="#fff" stroke="#000" stroke-width="1" stroke-linejoin="miter"/>
<text font-size="13.92" text-anchor="middle" fill="#000" stroke="#000"><tspan x="2015.5" y="782.16" textLength="60.06" lengthAdjust="spacingAndGlyphs">PWM_H_A</tspan></text>
<polygon points="1965.5,790 2045.5,790 2065.5,802.5 2045.5,815 1965.5,815 1983.5,802.5" fill="#fff" stroke="#000" stroke-width="1" stroke-linejoin="miter"/>
<text font-size="13.92" text-anchor="middle" fill="#000" stroke="#000"><tspan x="2015.5" y="807.16" textLength="59.45" lengthAdjust="spacingAndGlyphs">PWM_H_B</tspan></text>
<polygon points="1965.5,815 2045.5,815 2065.5,827.5 2045.5,840 1965.5,840 1983.5,827.5" fill="#fff" stroke="#000" stroke-width="1" stroke-linejoin="miter"/>
<text font-size="13.92" text-anchor="middle" fill="#000" stroke="#000"><tspan x="2015.5" y="832.16" textLength="58.97" lengthAdjust="spacingAndGlyphs">PWM_H_C</tspan></text>
<rect x="2090.5" y="692.5" width="90" height="20" rx="0" ry="0" fill="#fff" stroke="#000" stroke-width="1"/>
<text font-size="13.92" text-anchor="middle" fill="#000" stroke="#000"><tspan x="2135.5" y="707.16" textLength="71.03" lengthAdjust="spacingAndGlyphs">Optocoupler</tspan></text>
<polygon points="2200.5,690 2280.5,690 2300.5,702.5 2280.5,715 2200.5,715 2218.5,702.5" fill="#fff" stroke="#000" stroke-width="1" stroke-linejoin="miter"/>
<text font-size="13.92" text-anchor="middle" fill="#000" stroke="#000"><tspan x="2250.5" y="707.16" textLength="51.72" lengthAdjust="spacingAndGlyphs">P12_HOT</tspan></text>
<rect x="2090.5" y="742.5" width="90" height="20" rx="0" ry="0" fill="#fff" stroke="#000" stroke-width="1"/>
<text font-size="13.92" text-anchor="middle" fill="#000" stroke="#000"><tspan x="2135.5" y="757.16" textLength="71.03" lengthAdjust="spacingAndGlyphs">Optocoupler</tspan></text>
<polygon points="2200.5,740 2280.5,740 2300.5,752.5 2280.5,765 2200.5,765 2218.5,752.5" fill="#fff" stroke="#000" stroke-width="1" stroke-linejoin="miter"/>
<text font-size="13.92" text-anchor="middle" fill="#000" stroke="#000"><tspan x="2250.5" y="757.16" textLength="58.42" lengthAdjust="spacingAndGlyphs">P180_HOT</tspan></text>
<rect x="2090.5" y="767.5" width="90" height="20" rx="0" ry="0" fill="#fff" stroke="#000" stroke-width="1"/>
<text font-size="13.92" text-anchor="middle" fill="#000" stroke="#000"><tspan x="2135.5" y="782.16" textLength="71.03" lengthAdjust="spacingAndGlyphs">Optocoupler</tspan></text>
<polygon points="2200.5,765 2280.5,765 2300.5,777.5 2280.5,790 2200.5,790 2218.5,777.5" fill="#fff" stroke="#000" stroke-width="1" stroke-linejoin="miter"/>
<text font-size="13.92" text-anchor="middle" fill="#000" stroke="#000"><tspan x="2250.5" y="782.16" textLength="56.28" lengthAdjust="spacingAndGlyphs">PHA_HOT</tspan></text>
<rect x="2090.5" y="792.5" width="90" height="20" rx="0" ry="0" fill="#fff" stroke="#000" stroke-width="1"/>
<text font-size="13.92" text-anchor="middle" fill="#000" stroke="#000"><tspan x="2135.5" y="807.16" textLength="71.03" lengthAdjust="spacingAndGlyphs">Optocoupler</tspan></text>
<polygon points="2200.5,790 2280.5,790 2300.5,802.5 2280.5,815 2200.5,815 2218.5,802.5" fill="#fff" stroke="#000" stroke-width="1" stroke-linejoin="miter"/>
<text font-size="13.92" text-anchor="middle" fill="#000" stroke="#000"><tspan x="2250.5" y="807.16" textLength="55.67" lengthAdjust="spacingAndGlyphs">PHB_HOT</tspan></text>
<rect x="2090.5" y="817.5" width="90" height="20" rx="0" ry="0" fill="#fff" stroke="#000" stroke-width="1"/>
<text font-size="13.92" text-anchor="middle" fill="#000" stroke="#000"><tspan x="2135.5" y="832.16" textLength="71.03" lengthAdjust="spacingAndGlyphs">Optocoupler</tspan></text>
<polygon points="2200.5,815 2280.5,815 2300.5,827.5 2280.5,840 2200.5,840 2218.5,827.5" fill="#fff" stroke="#000" stroke-width="1" stroke-linejoin="miter"/>
<text font-size="13.92" text-anchor="middle" fill="#000" stroke="#000"><tspan x="2250.5" y="832.16" textLength="55.19" lengthAdjust="spacingAndGlyphs">PHC_HOT</tspan></text>
<rect x="1510.5" y="907.5" width="60.0" height="50.0" rx="7.5" ry="7.5" fill="#fff" stroke="#000" stroke-width="1"/>
<text font-size="13.92" text-anchor="middle" fill="#000" stroke="#000"><tspan x="1540.5" y="922.76" textLength="51.64" lengthAdjust="spacingAndGlyphs">Common</tspan><tspan x="1540.5" y="937.16" textLength="24.53" lengthAdjust="spacingAndGlyphs">3.3V</tspan><tspan x="1540.5" y="951.56" textLength="20.89" lengthAdjust="spacingAndGlyphs">Bus</tspan></text>
<text x="2459.9" y="781.8" font-size="48.4" text-anchor="middle" fill="#e01b24" stroke="#e01b24" textLength="206.7" lengthAdjust="spacingAndGlyphs">HOT SIDE</text>
<rect x="1490.5" y="1030.5" width="770.0" height="690.0" rx="0" ry="0" fill="none" stroke="#000" stroke-width="1"/>
<text x="1874.7" y="1698.9" font-size="26.4" text-anchor="middle" fill="#000" stroke="#000" textLength="161" lengthAdjust="spacingAndGlyphs">Sensing Stage</text>
<rect x="1530.5" y="1110.5" width="80.0" height="60.0" rx="9" ry="9" fill="#fff" stroke="#000" stroke-width="1"/>
<text font-size="13.92" text-anchor="middle" fill="#000" stroke="#000"><tspan x="1570.5" y="1137.96" textLength="51.64" lengthAdjust="spacingAndGlyphs">Common</tspan><tspan x="1570.5" y="1152.36" textLength="55.23" lengthAdjust="spacingAndGlyphs">1.65V Bus</tspan></text>
<polygon points="1650.5,1040.5 1730.5,1075.5 1650.5,1110.5" fill="#fff" stroke="#000" stroke-width="1" stroke-linejoin="miter"/>
<text font-size="13.92" text-anchor="start" fill="#000" stroke="#000"><tspan x="1653" y="1072.96" textLength="41.89" lengthAdjust="spacingAndGlyphs">Voltage</tspan><tspan x="1653" y="1087.36" textLength="50.31" lengthAdjust="spacingAndGlyphs">Follower</tspan></text>
<rect x="1650.5" y="1140.5" width="80.0" height="70.0" rx="10.5" ry="10.5" fill="#fff" stroke="#000" stroke-width="1"/>
<text font-size="13.92" text-anchor="middle" fill="#000" stroke="#000"><tspan x="1690.5" y="1158.56" textLength="62" lengthAdjust="spacingAndGlyphs">Step-Down</tspan><tspan x="1690.5" y="1172.96" textLength="32.53" lengthAdjust="spacingAndGlyphs">Sense</tspan><tspan x="1690.5" y="1187.36" textLength="73.09" lengthAdjust="spacingAndGlyphs">Transformer</tspan><tspan x="1690.5" y="1201.76" textLength="45.05" lengthAdjust="spacingAndGlyphs">Phase A</tspan></text>
<rect x="1760.5" y="1145.5" width="80.0" height="60.0" rx="9" ry="9" fill="#fff" stroke="#000" stroke-width="1"/>
<text font-size="13.92" text-anchor="middle" fill="#000" stroke="#000"><tspan x="1800.5" y="1158.56" textLength="27.44" lengthAdjust="spacingAndGlyphs">High</tspan><tspan x="1800.5" y="1172.96" textLength="52.98" lengthAdjust="spacingAndGlyphs">Precision</tspan><tspan x="1800.5" y="1187.36" textLength="45.77" lengthAdjust="spacingAndGlyphs">Resistor</tspan><tspan x="1800.5" y="1201.76" textLength="42.8" lengthAdjust="spacingAndGlyphs">Divider</tspan></text>
<polygon points="1929.5,1138.5 2010.5,1173.5 1929.5,1208.5" fill="#fff" stroke="#000" stroke-width="1" stroke-linejoin="miter"/>
<text font-size="13.92" text-anchor="start" fill="#000" stroke="#000"><tspan x="1933.4" y="1170.96" textLength="46.45" lengthAdjust="spacingAndGlyphs">OP Amp</tspan><tspan x="1933.4" y="1185.36" textLength="35.03" lengthAdjust="spacingAndGlyphs">Adder</tspan></text>
<rect x="2030.5" y="1158.5" width="70.0" height="30.0" rx="4.5" ry="4.5" fill="#fff" stroke="#000" stroke-width="1"/>
<text font-size="13.92" text-anchor="middle" fill="#000" stroke="#000"><tspan x="2065.5" y="1178.16" textLength="61.41" lengthAdjust="spacingAndGlyphs">RC (Low Z)</tspan></text>
<polygon points="2120.5,1161 2200.5,1161 2220.5,1173.5 2200.5,1186 2120.5,1186 2140.5,1173.5" fill="#fff" stroke="#000" stroke-width="1" stroke-linejoin="miter"/>
<text font-size="13.92" text-anchor="middle" fill="#000" stroke="#000"><tspan x="2176" y="1178.16" textLength="60.78" lengthAdjust="spacingAndGlyphs">VAC_A_sns</tspan></text>
<rect x="1650.5" y="1230.5" width="80.0" height="70.0" rx="10.5" ry="10.5" fill="#fff" stroke="#000" stroke-width="1"/>
<text font-size="13.92" text-anchor="middle" fill="#000" stroke="#000"><tspan x="1690.5" y="1248.56" textLength="62" lengthAdjust="spacingAndGlyphs">Step-Down</tspan><tspan x="1690.5" y="1262.96" textLength="32.53" lengthAdjust="spacingAndGlyphs">Sense</tspan><tspan x="1690.5" y="1277.36" textLength="73.09" lengthAdjust="spacingAndGlyphs">Transformer</tspan><tspan x="1690.5" y="1291.76" textLength="44.44" lengthAdjust="spacingAndGlyphs">Phase B</tspan></text>
<rect x="1760.5" y="1235.5" width="80.0" height="60.0" rx="9" ry="9" fill="#fff" stroke="#000" stroke-width="1"/>
<text font-size="13.92" text-anchor="middle" fill="#000" stroke="#000"><tspan x="1800.5" y="1248.56" textLength="27.44" lengthAdjust="spacingAndGlyphs">High</tspan><tspan x="1800.5" y="1262.96" textLength="52.98" lengthAdjust="spacingAndGlyphs">Precision</tspan><tspan x="1800.5" y="1277.36" textLength="45.77" lengthAdjust="spacingAndGlyphs">Resistor</tspan><tspan x="1800.5" y="1291.76" textLength="42.8" lengthAdjust="spacingAndGlyphs">Divider</tspan></text>
<polygon points="1929.5,1228.5 2010.5,1263.5 1929.5,1298.5" fill="#fff" stroke="#000" stroke-width="1" stroke-linejoin="miter"/>
<text font-size="13.92" text-anchor="start" fill="#000" stroke="#000"><tspan x="1933.4" y="1260.96" textLength="46.45" lengthAdjust="spacingAndGlyphs">OP Amp</tspan><tspan x="1933.4" y="1275.36" textLength="35.03" lengthAdjust="spacingAndGlyphs">Adder</tspan></text>
<rect x="2030.5" y="1248.5" width="70.0" height="30.0" rx="4.5" ry="4.5" fill="#fff" stroke="#000" stroke-width="1"/>
<text font-size="13.92" text-anchor="middle" fill="#000" stroke="#000"><tspan x="2065.5" y="1268.16" textLength="61.41" lengthAdjust="spacingAndGlyphs">RC (Low Z)</tspan></text>
<polygon points="2120.5,1251 2200.5,1251 2220.5,1263.5 2200.5,1276 2120.5,1276 2140.5,1263.5" fill="#fff" stroke="#000" stroke-width="1" stroke-linejoin="miter"/>
<text font-size="13.92" text-anchor="middle" fill="#000" stroke="#000"><tspan x="2176" y="1268.16" textLength="60.17" lengthAdjust="spacingAndGlyphs">VAC_B_sns</tspan></text>
<rect x="1650.5" y="1320.5" width="80.0" height="70.0" rx="10.5" ry="10.5" fill="#fff" stroke="#000" stroke-width="1"/>
<text font-size="13.92" text-anchor="middle" fill="#000" stroke="#000"><tspan x="1690.5" y="1338.56" textLength="62" lengthAdjust="spacingAndGlyphs">Step-Down</tspan><tspan x="1690.5" y="1352.96" textLength="32.53" lengthAdjust="spacingAndGlyphs">Sense</tspan><tspan x="1690.5" y="1367.36" textLength="73.09" lengthAdjust="spacingAndGlyphs">Transformer</tspan><tspan x="1690.5" y="1381.76" textLength="44.44" lengthAdjust="spacingAndGlyphs">Phase B</tspan></text>
<rect x="1760.5" y="1325.5" width="80.0" height="60.0" rx="9" ry="9" fill="#fff" stroke="#000" stroke-width="1"/>
<text font-size="13.92" text-anchor="middle" fill="#000" stroke="#000"><tspan x="1800.5" y="1338.56" textLength="27.44" lengthAdjust="spacingAndGlyphs">High</tspan><tspan x="1800.5" y="1352.96" textLength="52.98" lengthAdjust="spacingAndGlyphs">Precision</tspan><tspan x="1800.5" y="1367.36" textLength="45.77" lengthAdjust="spacingAndGlyphs">Resistor</tspan><tspan x="1800.5" y="1381.76" textLength="42.8" lengthAdjust="spacingAndGlyphs">Divider</tspan></text>
<polygon points="1929.5,1318.5 2010.5,1353.5 1929.5,1388.5" fill="#fff" stroke="#000" stroke-width="1" stroke-linejoin="miter"/>
<text font-size="13.92" text-anchor="start" fill="#000" stroke="#000"><tspan x="1933.4" y="1350.96" textLength="46.45" lengthAdjust="spacingAndGlyphs">OP Amp</tspan><tspan x="1933.4" y="1365.36" textLength="35.03" lengthAdjust="spacingAndGlyphs">Adder</tspan></text>
<rect x="2030.5" y="1338.5" width="70.0" height="30.0" rx="4.5" ry="4.5" fill="#fff" stroke="#000" stroke-width="1"/>
<text font-size="13.92" text-anchor="middle" fill="#000" stroke="#000"><tspan x="2065.5" y="1358.16" textLength="61.41" lengthAdjust="spacingAndGlyphs">RC (Low Z)</tspan></text>
<polygon points="2120.5,1341 2200.5,1341 2220.5,1353.5 2200.5,1366 2120.5,1366 2140.5,1353.5" fill="#fff" stroke="#000" stroke-width="1" stroke-linejoin="miter"/>
<text font-size="13.92" text-anchor="middle" fill="#000" stroke="#000"><tspan x="2176" y="1358.16" textLength="59.69" lengthAdjust="spacingAndGlyphs">VAC_C_sns</tspan></text>
<rect x="1740.5" y="1418" width="70.0" height="50" rx="7.5" ry="7.5" fill="#fff" stroke="#000" stroke-width="1"/>
<text font-size="13.92" text-anchor="middle" fill="#000" stroke="#000"><tspan x="1775.5" y="1433.26" textLength="51.64" lengthAdjust="spacingAndGlyphs">Common</tspan><tspan x="1775.5" y="1447.66" textLength="21.53" lengthAdjust="spacingAndGlyphs">12V</tspan><tspan x="1775.5" y="1462.06" textLength="20.89" lengthAdjust="spacingAndGlyphs">Bus</tspan></text>
<rect x="1830.5" y="1413" width="80.0" height="60" rx="9" ry="9" fill="#fff" stroke="#000" stroke-width="1"/>
<text font-size="13.92" text-anchor="middle" fill="#000" stroke="#000"><tspan x="1870.5" y="1426.06" textLength="27.44" lengthAdjust="spacingAndGlyphs">High</tspan><tspan x="1870.5" y="1440.46" textLength="52.98" lengthAdjust="spacingAndGlyphs">Precision</tspan><tspan x="1870.5" y="1454.86" textLength="45.77" lengthAdjust="spacingAndGlyphs">Resistor</tspan><tspan x="1870.5" y="1469.26" textLength="42.8" lengthAdjust="spacingAndGlyphs">Divider</tspan></text>
<polygon points="1930.5,1408 2010.5,1443 1930.5,1478" fill="#fff" stroke="#000" stroke-width="1" stroke-linejoin="miter"/>
<text font-size="13.92" text-anchor="start" fill="#000" stroke="#000"><tspan x="1933.4" y="1433.26" textLength="41.89" lengthAdjust="spacingAndGlyphs">Voltage</tspan><tspan x="1933.4" y="1447.66" textLength="50.31" lengthAdjust="spacingAndGlyphs">Follower</tspan><tspan x="1933.4" y="1462.06" textLength="45.23" lengthAdjust="spacingAndGlyphs">Isolated</tspan></text>
<rect x="2030.5" y="1428" width="70.0" height="30" rx="4.5" ry="4.5" fill="#fff" stroke="#000" stroke-width="1"/>
<text font-size="13.92" text-anchor="middle" fill="#000" stroke="#000"><tspan x="2065.5" y="1447.66" textLength="61.41" lengthAdjust="spacingAndGlyphs">RC (Low Z)</tspan></text>
<polygon points="2120.5,1430.5 2205.5,1430.5 2220.5,1443.0 2205.5,1455.5 2120.5,1455.5 2140.5,1443.0" fill="#fff" stroke="#000" stroke-width="1" stroke-linejoin="miter"/>
<text font-size="13.92" text-anchor="middle" fill="#000" stroke="#000"><tspan x="2170.5" y="1447.66" textLength="58.38" lengthAdjust="spacingAndGlyphs">12Bus_sns</tspan></text>
<rect x="1740.5" y="1510.5" width="70.0" height="50.0" rx="7.5" ry="7.5" fill="#fff" stroke="#000" stroke-width="1"/>
<text font-size="13.92" text-anchor="middle" fill="#000" stroke="#000"><tspan x="1775.5" y="1525.76" textLength="51.64" lengthAdjust="spacingAndGlyphs">Common</tspan><tspan x="1775.5" y="1540.16" textLength="28.23" lengthAdjust="spacingAndGlyphs">180V</tspan><tspan x="1775.5" y="1554.56" textLength="20.89" lengthAdjust="spacingAndGlyphs">Bus</tspan></text>
<rect x="1830.5" y="1505.5" width="80.0" height="60.0" rx="9" ry="9" fill="#fff" stroke="#000" stroke-width="1"/>
<text font-size="13.92" text-anchor="middle" fill="#000" stroke="#000"><tspan x="1870.5" y="1518.56" textLength="27.44" lengthAdjust="spacingAndGlyphs">High</tspan><tspan x="1870.5" y="1532.96" textLength="52.98" lengthAdjust="spacingAndGlyphs">Precision</tspan><tspan x="1870.5" y="1547.36" textLength="45.77" lengthAdjust="spacingAndGlyphs">Resistor</tspan><tspan x="1870.5" y="1561.76" textLength="42.8" lengthAdjust="spacingAndGlyphs">Divider</tspan></text>
<polygon points="1930.5,1500.5 2010.5,1535.5 1930.5,1570.5" fill="#fff" stroke="#000" stroke-width="1" stroke-linejoin="miter"/>
<text font-size="13.92" text-anchor="start" fill="#000" stroke="#000"><tspan x="1933.4" y="1525.76" textLength="41.89" lengthAdjust="spacingAndGlyphs">Voltage</tspan><tspan x="1933.4" y="1540.16" textLength="50.31" lengthAdjust="spacingAndGlyphs">Follower</tspan><tspan x="1933.4" y="1554.56" textLength="45.23" lengthAdjust="spacingAndGlyphs">Isolated</tspan></text>
<rect x="2030.5" y="1520.5" width="70.0" height="30.0" rx="4.5" ry="4.5" fill="#fff" stroke="#000" stroke-width="1"/>
<text font-size="13.92" text-anchor="middle" fill="#000" stroke="#000"><tspan x="2065.5" y="1540.16" textLength="61.41" lengthAdjust="spacingAndGlyphs">RC (Low Z)</tspan></text>
<polygon points="2120.5,1523.0 2205.5,1523.0 2220.5,1535.5 2205.5,1548.0 2120.5,1548.0 2140.5,1535.5" fill="#fff" stroke="#000" stroke-width="1" stroke-linejoin="miter"/>
<text font-size="13.92" text-anchor="middle" fill="#000" stroke="#000"><tspan x="2170.5" y="1540.16" textLength="65.08" lengthAdjust="spacingAndGlyphs">180Bus_sns</tspan></text>
<rect x="1740.5" y="1600.5" width="70.0" height="50.0" rx="7.5" ry="7.5" fill="#fff" stroke="#000" stroke-width="1"/>
<text font-size="13.92" text-anchor="middle" fill="#000" stroke="#000"><tspan x="1775.5" y="1615.76" textLength="51.64" lengthAdjust="spacingAndGlyphs">Common</tspan><tspan x="1775.5" y="1630.16" textLength="14.81" lengthAdjust="spacingAndGlyphs">5V</tspan><tspan x="1775.5" y="1644.56" textLength="20.89" lengthAdjust="spacingAndGlyphs">Bus</tspan></text>
<rect x="1830.5" y="1595.5" width="80.0" height="60.0" rx="9" ry="9" fill="#fff" stroke="#000" stroke-width="1"/>
<text font-size="13.92" text-anchor="middle" fill="#000" stroke="#000"><tspan x="1870.5" y="1608.56" textLength="27.44" lengthAdjust="spacingAndGlyphs">High</tspan><tspan x="1870.5" y="1622.96" textLength="52.98" lengthAdjust="spacingAndGlyphs">Precision</tspan><tspan x="1870.5" y="1637.36" textLength="45.77" lengthAdjust="spacingAndGlyphs">Resistor</tspan><tspan x="1870.5" y="1651.76" textLength="42.8" lengthAdjust="spacingAndGlyphs">Divider</tspan></text>
<polygon points="1930.5,1590.5 2010.5,1625.5 1930.5,1660.5" fill="#fff" stroke="#000" stroke-width="1" stroke-linejoin="miter"/>
<text font-size="13.92" text-anchor="start" fill="#000" stroke="#000"><tspan x="1933.4" y="1622.96" textLength="41.89" lengthAdjust="spacingAndGlyphs">Voltage</tspan><tspan x="1933.4" y="1637.36" textLength="50.31" lengthAdjust="spacingAndGlyphs">Follower</tspan></text>
<rect x="2030.5" y="1610.5" width="70.0" height="30.0" rx="4.5" ry="4.5" fill="#fff" stroke="#000" stroke-width="1"/>
<text font-size="13.92" text-anchor="middle" fill="#000" stroke="#000"><tspan x="2065.5" y="1630.16" textLength="61.41" lengthAdjust="spacingAndGlyphs">RC (Low Z)</tspan></text>
<polygon points="2120.5,1613.0 2205.5,1613.0 2220.5,1625.5 2205.5,1638.0 2120.5,1638.0 2140.5,1625.5" fill="#fff" stroke="#000" stroke-width="1" stroke-linejoin="miter"/>
<text font-size="13.92" text-anchor="middle" fill="#000" stroke="#000"><tspan x="2170.5" y="1630.16" textLength="51.67" lengthAdjust="spacingAndGlyphs">5Bus_sns</tspan></text>
<rect x="130.5" y="1140.5" width="1200.0" height="550.0" rx="0" ry="0" fill="none" stroke="#000" stroke-width="1"/>
<text x="250" y="1110.3" font-size="48.4" text-anchor="middle" fill="#e01b24" stroke="#e01b24" textLength="206.5" lengthAdjust="spacingAndGlyphs">HOT SIDE</text>
<text x="730" y="1666.6" font-size="26.4" text-anchor="middle" fill="#000" stroke="#000" textLength="167.2" lengthAdjust="spacingAndGlyphs">Inverter Stage</text>
<rect x="150.5" y="1230.5" width="280.0" height="270.0" rx="40.5" ry="40.5" fill="#fff" stroke="#000" stroke-width="1"/>
<text font-size="13.92" text-anchor="middle" fill="#000" stroke="#000"><tspan x="339.5" y="1254.66" textLength="94.14" lengthAdjust="spacingAndGlyphs">120 VAC Phase A</tspan></text>
<rect x="540.5" y="1230.5" width="280.0" height="270.0" rx="40.5" ry="40.5" fill="#fff" stroke="#000" stroke-width="1"/>
<text font-size="13.92" text-anchor="middle" fill="#000" stroke="#000"><tspan x="729.8" y="1254.66" textLength="93.53" lengthAdjust="spacingAndGlyphs">120 VAC Phase B</tspan></text>
<rect x="940.5" y="1230.5" width="280.0" height="270.0" rx="40.5" ry="40.5" fill="#fff" stroke="#000" stroke-width="1"/>
<text font-size="13.92" text-anchor="middle" fill="#000" stroke="#000"><tspan x="1129.5" y="1254.66" textLength="93.05" lengthAdjust="spacingAndGlyphs">120 VAC Phase C</tspan></text>
<rect x="200.5" y="1260.5" width="60.0" height="40.0" rx="6" ry="6" fill="#fff" stroke="#000" stroke-width="1"/>
<text font-size="13.92" text-anchor="middle" fill="#000" stroke="#000"><tspan x="230.5" y="1277.96" textLength="31.36" lengthAdjust="spacingAndGlyphs">Input</tspan><tspan x="230.5" y="1292.36" textLength="30.94" lengthAdjust="spacingAndGlyphs">Filter</tspan></text>
<rect x="990.5" y="1260.5" width="60.0" height="40.0" rx="6" ry="6" fill="#fff" stroke="#000" stroke-width="1"/>
<text font-size="13.92" text-anchor="middle" fill="#000" stroke="#000"><tspan x="1020.5" y="1277.96" textLength="31.36" lengthAdjust="spacingAndGlyphs">Input</tspan><tspan x="1020.5" y="1292.36" textLength="30.94" lengthAdjust="spacingAndGlyphs">Filter</tspan></text>
<rect x="170.5" y="1320.5" width="510.0" height="50.0" rx="7.5" ry="7.5" fill="#fff" stroke="#000" stroke-width="1"/>
<text font-size="13.92" text-anchor="middle" fill="#000" stroke="#000"><tspan x="425.5" y="1350.16" textLength="22.92" lengthAdjust="spacingAndGlyphs">IPM</tspan></text>
<rect x="690.5" y="1320.5" width="390.0" height="50.0" rx="7.5" ry="7.5" fill="#fff" stroke="#000" stroke-width="1"/>
<text font-size="13.92" text-anchor="middle" fill="#000" stroke="#000"><tspan x="885.5" y="1350.16" textLength="22.92" lengthAdjust="spacingAndGlyphs">IPM</tspan></text>
<rect x="195.5" y="1410.5" width="70.0" height="30.0" rx="4.5" ry="4.5" fill="#fff" stroke="#000" stroke-width="1"/>
<text font-size="13.92" text-anchor="middle" fill="#000" stroke="#000"><tspan x="230.5" y="1430.16" textLength="39.78" lengthAdjust="spacingAndGlyphs">LC LPF</tspan></text>
<rect x="585.5" y="1410.5" width="70.0" height="30.0" rx="4.5" ry="4.5" fill="#fff" stroke="#000" stroke-width="1"/>
<text font-size="13.92" text-anchor="middle" fill="#000" stroke="#000"><tspan x="620.5" y="1430.16" textLength="39.78" lengthAdjust="spacingAndGlyphs">LC LPF</tspan></text>
<rect x="985.5" y="1410.5" width="70.0" height="30.0" rx="4.5" ry="4.5" fill="#fff" stroke="#000" stroke-width="1"/>
<text font-size="13.92" text-anchor="middle" fill="#000" stroke="#000"><tspan x="1020.5" y="1430.16" textLength="39.78" lengthAdjust="spacingAndGlyphs">LC LPF</tspan></text>
<rect x="320.5" y="1430.5" width="80.0" height="50.0" rx="7.5" ry="7.5" fill="#fff" stroke="#000" stroke-width="1"/>
<text font-size="13.92" text-anchor="middle" fill="#000" stroke="#000"><tspan x="360.5" y="1445.76" textLength="62" lengthAdjust="spacingAndGlyphs">Step-Down</tspan><tspan x="360.5" y="1460.16" textLength="32.53" lengthAdjust="spacingAndGlyphs">Sense</tspan><tspan x="360.5" y="1474.56" textLength="73.09" lengthAdjust="spacingAndGlyphs">Transformer</tspan></text>
<rect x="715.5" y="1430.5" width="80.0" height="50.0" rx="7.5" ry="7.5" fill="#fff" stroke="#000" stroke-width="1"/>
<text font-size="13.92" text-anchor="middle" fill="#000" stroke="#000"><tspan x="755.5" y="1445.76" textLength="62" lengthAdjust="spacingAndGlyphs">Step-Down</tspan><tspan x="755.5" y="1460.16" textLength="32.53" lengthAdjust="spacingAndGlyphs">Sense</tspan><tspan x="755.5" y="1474.56" textLength="73.09" lengthAdjust="spacingAndGlyphs">Transformer</tspan></text>
<rect x="1120.5" y="1430.5" width="80.0" height="50.0" rx="7.5" ry="7.5" fill="#fff" stroke="#000" stroke-width="1"/>
<text font-size="13.92" text-anchor="middle" fill="#000" stroke="#000"><tspan x="1160.5" y="1445.76" textLength="62" lengthAdjust="spacingAndGlyphs">Step-Down</tspan><tspan x="1160.5" y="1460.16" textLength="32.53" lengthAdjust="spacingAndGlyphs">Sense</tspan><tspan x="1160.5" y="1474.56" textLength="73.09" lengthAdjust="spacingAndGlyphs">Transformer</tspan></text>
<rect x="450.5" y="1430.5" width="70.0" height="50.0" rx="7.5" ry="7.5" fill="#fff" stroke="#000" stroke-width="1"/>
<text font-size="13.92" text-anchor="middle" fill="#000" stroke="#000"><tspan x="485.5" y="1445.76" textLength="51.64" lengthAdjust="spacingAndGlyphs">Common</tspan><tspan x="485.5" y="1460.16" textLength="21.53" lengthAdjust="spacingAndGlyphs">12V</tspan><tspan x="485.5" y="1474.56" textLength="20.89" lengthAdjust="spacingAndGlyphs">Bus</tspan></text>
<rect x="840.5" y="1430.5" width="70.0" height="50.0" rx="7.5" ry="7.5" fill="#fff" stroke="#000" stroke-width="1"/>
<text font-size="13.92" text-anchor="middle" fill="#000" stroke="#000"><tspan x="875.5" y="1445.76" textLength="51.64" lengthAdjust="spacingAndGlyphs">Common</tspan><tspan x="875.5" y="1460.16" textLength="21.53" lengthAdjust="spacingAndGlyphs">12V</tspan><tspan x="875.5" y="1474.56" textLength="20.89" lengthAdjust="spacingAndGlyphs">Bus</tspan></text>
<polygon points="285.5,1500.5 295.5,1500.5 295.5,1551 306.0,1551 290.5,1570 275.0,1551 285.5,1551" fill="#fff" stroke="#000" stroke-width="1" stroke-linejoin="miter"/>
<polygon points="250.5,1570.5 330.5,1570.5 330.5,1608 290.5,1630.5 250.5,1608" fill="#fff" stroke="#000" stroke-width="1" stroke-linejoin="miter"/>
<text font-size="13.92" text-anchor="middle" fill="#000" stroke="#000"><tspan x="290.5" y="1582.36" textLength="59.09" lengthAdjust="spacingAndGlyphs">120 V Rms</tspan><tspan x="290.5" y="1596.76" textLength="56.7" lengthAdjust="spacingAndGlyphs">AC output</tspan></text>
<polygon points="680.5,1500.5 690.5,1500.5 690.5,1551 701.0,1551 685.5,1570 670.0,1551 680.5,1551" fill="#fff" stroke="#000" stroke-width="1" stroke-linejoin="miter"/>
<polygon points="645.5,1570.5 725.5,1570.5 725.5,1608 685.5,1630.5 645.5,1608" fill="#fff" stroke="#000" stroke-width="1" stroke-linejoin="miter"/>
<text font-size="13.92" text-anchor="middle" fill="#000" stroke="#000"><tspan x="685.5" y="1582.36" textLength="59.09" lengthAdjust="spacingAndGlyphs">120 V Rms</tspan><tspan x="685.5" y="1596.76" textLength="56.7" lengthAdjust="spacingAndGlyphs">AC output</tspan></text>
<polygon points="1085.5,1500.5 1095.5,1500.5 1095.5,1551 1106.0,1551 1090.5,1570 1075.0,1551 1085.5,1551" fill="#fff" stroke="#000" stroke-width="1" stroke-linejoin="miter"/>
<polygon points="1050.5,1570.5 1130.5,1570.5 1130.5,1608 1090.5,1630.5 1050.5,1608" fill="#fff" stroke="#000" stroke-width="1" stroke-linejoin="miter"/>
<text font-size="13.92" text-anchor="middle" fill="#000" stroke="#000"><tspan x="1090.5" y="1582.36" textLength="59.09" lengthAdjust="spacingAndGlyphs">120 V Rms</tspan><tspan x="1090.5" y="1596.76" textLength="56.7" lengthAdjust="spacingAndGlyphs">AC output</tspan></text>
<polygon points="350.5,1195.5 430.5,1195.5 450.5,1208.0 430.5,1220.5 350.5,1220.5 370.0,1208.0" fill="#fff" stroke="#000" stroke-width="1" stroke-linejoin="miter"/>
<text font-size="13.92" text-anchor="middle" fill="#000" stroke="#000"><tspan x="399.6" y="1212.66" textLength="56.28" lengthAdjust="spacingAndGlyphs">PHA_HOT</tspan></text>
<polygon points="740.5,1195.5 821.0,1195.5 840.5,1208.0 821.0,1220.5 740.5,1220.5 760.5,1208.0" fill="#fff" stroke="#000" stroke-width="1" stroke-linejoin="miter"/>
<text font-size="13.92" text-anchor="middle" fill="#000" stroke="#000"><tspan x="789" y="1212.66" textLength="55.67" lengthAdjust="spacingAndGlyphs">PHB_HOT</tspan></text>
<polygon points="1140.5,1195.5 1220.5,1195.5 1240.5,1208.0 1220.5,1220.5 1140.5,1220.5 1160.5,1208.0" fill="#fff" stroke="#000" stroke-width="1" stroke-linejoin="miter"/>
<text font-size="13.92" text-anchor="middle" fill="#000" stroke="#000"><tspan x="1189" y="1212.66" textLength="55.19" lengthAdjust="spacingAndGlyphs">PHC_HOT</tspan></text>
<polygon points="90.5,630.5 96.0,619.5 90.5,621.7 85.0,619.5" fill="#000" stroke="#000" stroke-width="0.6" stroke-linejoin="miter"/>
<path d="M90.5,567.5 L90.5,621.7" fill="none" stroke="#000" stroke-width="2" stroke-linejoin="miter"/>
<polygon points="90.5,690.5 96.0,679.5 90.5,681.7 85.0,679.5" fill="#000" stroke="#000" stroke-width="0.6" stroke-linejoin="miter"/>
<path d="M90.5,670.5 L90.5,681.7" fill="none" stroke="#000" stroke-width="2" stroke-linejoin="miter"/>
<polygon points="90.5,750.5 96.0,739.5 90.5,741.7 85.0,739.5" fill="#000" stroke="#000" stroke-width="0.6" stroke-linejoin="miter"/>
<path d="M90.5,730.5 L90.5,741.7" fill="none" stroke="#000" stroke-width="2" stroke-linejoin="miter"/>
<polygon points="715,245.5 707.0,241.5 709.0,245.5 707.0,249.5" fill="#000" stroke="#000" stroke-width="0.6" stroke-linejoin="miter"/>
<path d="M745.5,200.5 L745.5,220.5 L660.5,220.5 L660.5,245.5 L709.0,245.5" fill="none" stroke="#000" stroke-width="1" stroke-linejoin="miter"/>
<polygon points="560.5,350.5 564.5,342.5 560.5,344.5 556.5,342.5" fill="#000" stroke="#000" stroke-width="0.6" stroke-linejoin="miter"/>
<path d="M560.5,330.5 L560.5,344.5" fill="none" stroke="#000" stroke-width="1" stroke-linejoin="miter"/>
<polygon points="620.5,388.5 628.5,392.5 626.5,388.5 628.5,384.5" fill="#000" stroke="#000" stroke-width="0.6" stroke-linejoin="miter"/>
<path d="M655.5,395.5 L640.5,395.5 L640.5,388.5 L626.5,388.5" fill="none" stroke="#000" stroke-width="1" stroke-linejoin="miter"/>
<polygon points="750.5,402.5 761.5,408.0 759.3,402.5 761.5,397.0" fill="#000" stroke="#000" stroke-width="0.6" stroke-linejoin="miter"/>
<path d="M796,245.5 L811,245.5 L811,402.5 L759.3,402.5" fill="none" stroke="#000" stroke-width="2" stroke-dasharray="2 2" stroke-linejoin="miter"/>
<polygon points="788.5,170.5 799.5,176.0 797.3,170.5 799.5,165.0" fill="#006eaf" stroke="#006eaf" stroke-width="0.6" stroke-linejoin="miter"/>
<path d="M560.5,400.5 L560.5,440 L840.5,440 L840.5,170.5 L797.3,170.5" fill="none" stroke="#006eaf" stroke-width="2" stroke-linejoin="miter"/>
<polygon points="965.5,305.5 954.5,300.0 956.7,305.5 954.5,311.0" fill="#006eaf" stroke="#006eaf" stroke-width="0.6" stroke-linejoin="miter"/>
<path d="M840.5,305.5 L956.7,305.5" fill="none" stroke="#006eaf" stroke-width="2" stroke-linejoin="miter"/>
<polygon points="1056,390.5 1067.0,396.0 1064.8,390.5 1067.0,385.0" fill="#006eaf" stroke="#006eaf" stroke-width="0.6" stroke-linejoin="miter"/>
<path d="M1110.5,340.5 L1110.5,390.5 L1064.8,390.5" fill="none" stroke="#006eaf" stroke-width="2" stroke-linejoin="miter"/>
<polygon points="1165.5,390.5 1154.5,385.0 1156.7,390.5 1154.5,396.0" fill="#006eaf" stroke="#006eaf" stroke-width="0.6" stroke-linejoin="miter"/>
<path d="M1110.5,390.5 L1156.7,390.5" fill="none" stroke="#006eaf" stroke-width="2" stroke-linejoin="miter"/>
<polygon points="1208,440.5 1213.5,429.5 1208.0,431.7 1202.5,429.5" fill="#005700" stroke="#005700" stroke-width="0.6" stroke-linejoin="miter"/>
<path d="M1208,410.5 L1208.0,431.7" fill="none" stroke="#005700" stroke-width="2" stroke-linejoin="miter"/>
<polygon points="1010.5,550.5 1016.0,539.5 1010.5,541.7 1005.0,539.5" fill="#005700" stroke="#005700" stroke-width="0.6" stroke-linejoin="miter"/>
<path d="M1033,510.5 L1033,530.5 L1010.5,530.5 L1010.5,541.7" fill="none" stroke="#005700" stroke-width="2" stroke-linejoin="miter"/>
<polygon points="1085.5,565.5 1077.5,561.5 1079.5,565.5 1077.5,569.5" fill="#000" stroke="#000" stroke-width="0.6" stroke-linejoin="miter"/>
<path d="M1050.5,565.5 L1079.5,565.5" fill="none" stroke="#000" stroke-width="1" stroke-linejoin="miter"/>
<polygon points="560.5,660.5 564.5,652.5 560.5,654.5 556.5,652.5" fill="#000" stroke="#000" stroke-width="0.6" stroke-linejoin="miter"/>
<path d="M560.5,640.5 L560.5,654.5" fill="none" stroke="#000" stroke-width="1" stroke-linejoin="miter"/>
<polygon points="620.5,673 628.5,677.0 626.5,673.0 628.5,669.0" fill="#000" stroke="#000" stroke-width="0.6" stroke-linejoin="miter"/>
<path d="M655.5,665.5 L640.5,665.5 L640.5,673 L626.5,673.0" fill="none" stroke="#000" stroke-width="1" stroke-linejoin="miter"/>
<polygon points="620.5,698 628.5,702.0 626.5,698.0 628.5,694.0" fill="#000" stroke="#000" stroke-width="0.6" stroke-linejoin="miter"/>
<path d="M655.5,705.5 L640.5,705.5 L640.5,698 L626.5,698.0" fill="none" stroke="#000" stroke-width="1" stroke-linejoin="miter"/>
<polygon points="810.5,495.5 799.5,490.0 801.7,495.5 799.5,501.0" fill="#b09500" stroke="#b09500" stroke-width="0.6" stroke-linejoin="miter"/>
<path d="M770.5,495.5 L801.7,495.5" fill="none" stroke="#b09500" stroke-width="2" stroke-linejoin="miter"/>
<polygon points="751,698 762.0,703.5 759.8,698.0 762.0,692.5" fill="#b09500" stroke="#b09500" stroke-width="0.6" stroke-linejoin="miter"/>
<path d="M790.5,495.5 L790.5,698 L759.8,698.0" fill="none" stroke="#b09500" stroke-width="2" stroke-linejoin="miter"/>
<polygon points="751,657.5 762.0,663.0 759.8,657.5 762.0,652.0" fill="#b09500" stroke="#b09500" stroke-width="0.6" stroke-linejoin="miter"/>
<path d="M790.5,657.5 L759.8,657.5" fill="none" stroke="#b09500" stroke-width="2" stroke-linejoin="miter"/>
<polygon points="480.5,513 469.5,507.5 471.7,513.0 469.5,518.5" fill="#b09500" stroke="#b09500" stroke-width="0.6" stroke-linejoin="miter"/>
<path d="M500.5,685.5 L460.5,685.5 L460.5,513 L471.7,513.0" fill="none" stroke="#b09500" stroke-width="2" stroke-linejoin="miter"/>
<polygon points="751,712.5 762.0,718.0 759.8,712.5 762.0,707.0" fill="#000" stroke="#000" stroke-width="0.6" stroke-linejoin="miter"/>
<path d="M830.5,643 L830.5,712.5 L759.8,712.5" fill="none" stroke="#000" stroke-width="2" stroke-dasharray="2 2" stroke-linejoin="miter"/>
<polygon points="751,672.5 762.0,678.0 759.8,672.5 762.0,667.0" fill="#000" stroke="#000" stroke-width="0.6" stroke-linejoin="miter"/>
<path d="M830.5,672.5 L759.8,672.5" fill="none" stroke="#000" stroke-width="2" stroke-dasharray="2 2" stroke-linejoin="miter"/>
<polygon points="560.5,880.5 564.5,872.5 560.5,874.5 556.5,872.5" fill="#000" stroke="#000" stroke-width="0.6" stroke-linejoin="miter"/>
<path d="M560.5,860.5 L560.5,874.5" fill="none" stroke="#000" stroke-width="1" stroke-linejoin="miter"/>
<polygon points="620.5,893 628.5,897.0 626.5,893.0 628.5,889.0" fill="#000" stroke="#000" stroke-width="0.6" stroke-linejoin="miter"/>
<path d="M655.5,885.5 L640.5,885.5 L640.5,893 L626.5,893.0" fill="none" stroke="#000" stroke-width="1" stroke-linejoin="miter"/>
<polygon points="620.5,918 628.5,922.0 626.5,918.0 628.5,914.0" fill="#000" stroke="#000" stroke-width="0.6" stroke-linejoin="miter"/>
<path d="M655.5,925.5 L640.5,925.5 L640.5,918 L626.5,918.0" fill="none" stroke="#000" stroke-width="1" stroke-linejoin="miter"/>
<polygon points="751,918 762.0,923.5 759.8,918.0 762.0,912.5" fill="#b09500" stroke="#b09500" stroke-width="0.6" stroke-linejoin="miter"/>
<path d="M830.5,850.5 L830.5,918 L759.8,918.0" fill="none" stroke="#b09500" stroke-width="2" stroke-linejoin="miter"/>
<polygon points="751,878 762.0,883.5 759.8,878.0 762.0,872.5" fill="#b09500" stroke="#b09500" stroke-width="0.6" stroke-linejoin="miter"/>
<path d="M830.5,878 L759.8,878.0" fill="none" stroke="#b09500" stroke-width="2" stroke-linejoin="miter"/>
<polygon points="751,892.5 762.0,898.0 759.8,892.5 762.0,887.0" fill="#000" stroke="#000" stroke-width="0.6" stroke-linejoin="miter"/>
<path d="M930.5,950.5 L930.5,892.5 L759.8,892.5" fill="none" stroke="#000" stroke-width="2" stroke-dasharray="2 2" stroke-linejoin="miter"/>
<polygon points="751,932.5 762.0,938.0 759.8,932.5 762.0,927.0" fill="#000" stroke="#000" stroke-width="0.6" stroke-linejoin="miter"/>
<path d="M930.5,932.5 L759.8,932.5" fill="none" stroke="#000" stroke-width="2" stroke-dasharray="2 2" stroke-linejoin="miter"/>
<polygon points="485.5,1005.5 474.5,1000.0 476.7,1005.5 474.5,1011.0" fill="#b20000" stroke="#b20000" stroke-width="0.6" stroke-linejoin="miter"/>
<path d="M500.5,905.5 L470,905.5 L470,1005.5 L476.7,1005.5" fill="none" stroke="#b20000" stroke-width="2" stroke-linejoin="miter"/>
<polygon points="810.5,1005.5 799.5,1000.0 801.7,1005.5 799.5,1011.0" fill="#b20000" stroke="#b20000" stroke-width="0.6" stroke-linejoin="miter"/>
<path d="M770.5,1005.5 L801.7,1005.5" fill="none" stroke="#b20000" stroke-width="2" stroke-linejoin="miter"/>
<polygon points="702.5,170.5 691.5,165.0 693.7,170.5 691.5,176.0" fill="#3700cc" stroke="#3700cc" stroke-width="0.6" stroke-linejoin="miter"/>
<path d="M310.5,785 L430.5,785 L430.5,170.5 L693.7,170.5" fill="none" stroke="#3700cc" stroke-width="2" stroke-linejoin="miter"/>
<polygon points="560.5,290.5 566.0,279.5 560.5,281.7 555.0,279.5" fill="#3700cc" stroke="#3700cc" stroke-width="0.6" stroke-linejoin="miter"/>
<path d="M430.5,170.5 L560.5,170.5 L560.5,281.7" fill="none" stroke="#3700cc" stroke-width="2" stroke-linejoin="miter"/>
<polygon points="560.5,600.5 566.0,589.5 560.5,591.7 555.0,589.5" fill="#3700cc" stroke="#3700cc" stroke-width="0.6" stroke-linejoin="miter"/>
<path d="M430.5,570.5 L560.5,570.5 L560.5,591.7" fill="none" stroke="#3700cc" stroke-width="2" stroke-linejoin="miter"/>
<polygon points="560.5,820.5 566.0,809.5 560.5,811.7 555.0,809.5" fill="#3700cc" stroke="#3700cc" stroke-width="0.6" stroke-linejoin="miter"/>
<path d="M430.5,785 L560.5,785 L560.5,811.7" fill="none" stroke="#3700cc" stroke-width="2" stroke-linejoin="miter"/>
<polygon points="1331,809.5 1323.0,805.5 1325.0,809.5 1323.0,813.5" fill="#000" stroke="#000" stroke-width="0.6" stroke-linejoin="miter"/>
<path d="M1283.5,809.5 L1325.0,809.5" fill="none" stroke="#000" stroke-width="1" stroke-linejoin="miter"/>
<polygon points="1331,865.5 1323.0,861.5 1325.0,865.5 1323.0,869.5" fill="#000" stroke="#000" stroke-width="0.6" stroke-linejoin="miter"/>
<path d="M1283.5,868.5 L1302.5,868.5 L1302.5,865.5 L1325.0,865.5" fill="none" stroke="#000" stroke-width="1" stroke-linejoin="miter"/>
<polygon points="1331,892.5 1323.0,888.5 1325.0,892.5 1323.0,896.5" fill="#000" stroke="#000" stroke-width="0.6" stroke-linejoin="miter"/>
<path d="M1283.5,890 L1302.5,890 L1302.5,892.5 L1325.0,892.5" fill="none" stroke="#000" stroke-width="1" stroke-linejoin="miter"/>
<polygon points="1270.5,900.5 1266.5,908.5 1270.5,906.5 1274.5,908.5" fill="#000" stroke="#000" stroke-width="0.6" stroke-linejoin="miter"/>
<path d="M1259.5,938 L1270.5,938 L1270.5,906.5" fill="none" stroke="#000" stroke-width="1" stroke-linejoin="miter"/>
<polygon points="1164.5,980.5 1153.5,975.0 1155.7,980.5 1153.5,986.0" fill="#005700" stroke="#005700" stroke-width="0.6" stroke-linejoin="miter"/>
<path d="M1125,980.5 L1155.7,980.5" fill="none" stroke="#005700" stroke-width="2" stroke-linejoin="miter"/>
<polygon points="1170.5,809.5 1159.5,804.0 1161.7,809.5 1159.5,815.0" fill="#005700" stroke="#005700" stroke-width="0.6" stroke-linejoin="miter"/>
<path d="M1147,980.5 L1147,809.5 L1161.7,809.5" fill="none" stroke="#005700" stroke-width="2" stroke-linejoin="miter"/>
<polygon points="1170.5,879 1159.5,873.5 1161.7,879.0 1159.5,884.5" fill="#005700" stroke="#005700" stroke-width="0.6" stroke-linejoin="miter"/>
<path d="M1147,879 L1161.7,879.0" fill="none" stroke="#005700" stroke-width="2" stroke-linejoin="miter"/>
<polygon points="1205,1001.5 1201.0,1009.5 1205.0,1007.5 1209.0,1009.5" fill="#000" stroke="#000" stroke-width="0.6" stroke-linejoin="miter"/>
<path d="M1184.5,1033 L1205,1033 L1205.0,1007.5" fill="none" stroke="#000" stroke-width="1" stroke-linejoin="miter"/>
<polygon points="1235.5,1001.5 1231.5,1009.5 1235.5,1007.5 1239.5,1009.5" fill="#000" stroke="#000" stroke-width="0.6" stroke-linejoin="miter"/>
<path d="M1184.5,1058 L1235.5,1058 L1235.5,1007.5" fill="none" stroke="#000" stroke-width="1" stroke-linejoin="miter"/>
<polygon points="1660.5,481 1656.5,489.0 1660.5,487.0 1664.5,489.0" fill="#000" stroke="#000" stroke-width="0.6" stroke-linejoin="miter"/>
<path d="M1660.5,527.5 L1660.5,487.0" fill="none" stroke="#000" stroke-width="1" stroke-linejoin="miter"/>
<polygon points="1694,527.5 1698.0,519.5 1694.0,521.5 1690.0,519.5" fill="#000" stroke="#000" stroke-width="0.6" stroke-linejoin="miter"/>
<path d="M1660.5,401 L1660.5,380.5 L1694,380.5 L1694.0,521.5" fill="none" stroke="#000" stroke-width="1" stroke-linejoin="miter"/>
<polygon points="1590.5,580.0 1582.5,576.0 1584.5,580.0 1582.5,584.0" fill="#000" stroke="#000" stroke-width="0.6" stroke-linejoin="miter"/>
<path d="M1560.5,580.0 L1584.5,580.0" fill="none" stroke="#000" stroke-width="1" stroke-linejoin="miter"/>
<polygon points="1590.5,605.0 1582.5,601.0 1584.5,605.0 1582.5,609.0" fill="#000" stroke="#000" stroke-width="0.6" stroke-linejoin="miter"/>
<path d="M1560.5,605.0 L1584.5,605.0" fill="none" stroke="#000" stroke-width="1" stroke-linejoin="miter"/>
<polygon points="1590.5,630.0 1582.5,626.0 1584.5,630.0 1582.5,634.0" fill="#000" stroke="#000" stroke-width="0.6" stroke-linejoin="miter"/>
<path d="M1560.5,630.0 L1584.5,630.0" fill="none" stroke="#000" stroke-width="1" stroke-linejoin="miter"/>
<polygon points="1590.5,655.0 1582.5,651.0 1584.5,655.0 1582.5,659.0" fill="#000" stroke="#000" stroke-width="0.6" stroke-linejoin="miter"/>
<path d="M1560.5,655.0 L1584.5,655.0" fill="none" stroke="#000" stroke-width="1" stroke-linejoin="miter"/>
<polygon points="1590.5,680.0 1582.5,676.0 1584.5,680.0 1582.5,684.0" fill="#000" stroke="#000" stroke-width="0.6" stroke-linejoin="miter"/>
<path d="M1560.5,680.0 L1584.5,680.0" fill="none" stroke="#000" stroke-width="1" stroke-linejoin="miter"/>
<polygon points="1590.5,705.0 1582.5,701.0 1584.5,705.0 1582.5,709.0" fill="#000" stroke="#000" stroke-width="0.6" stroke-linejoin="miter"/>
<path d="M1560.5,705.0 L1584.5,705.0" fill="none" stroke="#000" stroke-width="1" stroke-linejoin="miter"/>
<polygon points="1590.5,765.0 1582.5,761.0 1584.5,765.0 1582.5,769.0" fill="#000" stroke="#000" stroke-width="0.6" stroke-linejoin="miter"/>
<path d="M1560.5,765.0 L1584.5,765.0" fill="none" stroke="#000" stroke-width="1" stroke-linejoin="miter"/>
<polygon points="1590.5,790.0 1582.5,786.0 1584.5,790.0 1582.5,794.0" fill="#000" stroke="#000" stroke-width="0.6" stroke-linejoin="miter"/>
<path d="M1560.5,790.0 L1584.5,790.0" fill="none" stroke="#000" stroke-width="1" stroke-linejoin="miter"/>
<polygon points="1590.5,815.0 1582.5,811.0 1584.5,815.0 1582.5,819.0" fill="#000" stroke="#000" stroke-width="0.6" stroke-linejoin="miter"/>
<path d="M1560.5,815.0 L1584.5,815.0" fill="none" stroke="#000" stroke-width="1" stroke-linejoin="miter"/>
<polygon points="1983.5,570.0 1975.5,566.0 1977.5,570.0 1975.5,574.0" fill="#000" stroke="#000" stroke-width="0.6" stroke-linejoin="miter"/>
<path d="M1930.5,570.0 L1977.5,570.0" fill="none" stroke="#000" stroke-width="1" stroke-linejoin="miter"/>
<polygon points="1983.5,595.0 1975.5,591.0 1977.5,595.0 1975.5,599.0" fill="#000" stroke="#000" stroke-width="0.6" stroke-linejoin="miter"/>
<path d="M1930.5,595.0 L1977.5,595.0" fill="none" stroke="#000" stroke-width="1" stroke-linejoin="miter"/>
<polygon points="1983.5,640.0 1975.5,636.0 1977.5,640.0 1975.5,644.0" fill="#000" stroke="#000" stroke-width="0.6" stroke-linejoin="miter"/>
<path d="M1930.5,640.0 L1977.5,640.0" fill="none" stroke="#000" stroke-width="1" stroke-linejoin="miter"/>
<polygon points="1983.5,702.5 1975.5,698.5 1977.5,702.5 1975.5,706.5" fill="#000" stroke="#000" stroke-width="0.6" stroke-linejoin="miter"/>
<path d="M1930.5,702.5 L1977.5,702.5" fill="none" stroke="#000" stroke-width="1" stroke-linejoin="miter"/>
<polygon points="1983.5,727.5 1975.5,723.5 1977.5,727.5 1975.5,731.5" fill="#000" stroke="#000" stroke-width="0.6" stroke-linejoin="miter"/>
<path d="M1930.5,727.5 L1977.5,727.5" fill="none" stroke="#000" stroke-width="1" stroke-linejoin="miter"/>
<polygon points="1983.5,752.5 1975.5,748.5 1977.5,752.5 1975.5,756.5" fill="#000" stroke="#000" stroke-width="0.6" stroke-linejoin="miter"/>
<path d="M1930.5,752.5 L1977.5,752.5" fill="none" stroke="#000" stroke-width="1" stroke-linejoin="miter"/>
<polygon points="1983.5,777.5 1975.5,773.5 1977.5,777.5 1975.5,781.5" fill="#000" stroke="#000" stroke-width="0.6" stroke-linejoin="miter"/>
<path d="M1930.5,777.5 L1977.5,777.5" fill="none" stroke="#000" stroke-width="1" stroke-linejoin="miter"/>
<polygon points="1983.5,802.5 1975.5,798.5 1977.5,802.5 1975.5,806.5" fill="#000" stroke="#000" stroke-width="0.6" stroke-linejoin="miter"/>
<path d="M1930.5,802.5 L1977.5,802.5" fill="none" stroke="#000" stroke-width="1" stroke-linejoin="miter"/>
<polygon points="1983.5,827.5 1975.5,823.5 1977.5,827.5 1975.5,831.5" fill="#000" stroke="#000" stroke-width="0.6" stroke-linejoin="miter"/>
<path d="M1930.5,827.5 L1977.5,827.5" fill="none" stroke="#000" stroke-width="1" stroke-linejoin="miter"/>
<polygon points="2090.5,702.5 2082.5,698.5 2084.5,702.5 2082.5,706.5" fill="#000" stroke="#000" stroke-width="0.6" stroke-linejoin="miter"/>
<path d="M2065.5,702.5 L2084.5,702.5" fill="none" stroke="#000" stroke-width="1" stroke-linejoin="miter"/>
<polygon points="2218.5,702.5 2210.5,698.5 2212.5,702.5 2210.5,706.5" fill="#000" stroke="#000" stroke-width="0.6" stroke-linejoin="miter"/>
<path d="M2180.5,702.5 L2212.5,702.5" fill="none" stroke="#000" stroke-width="1" stroke-linejoin="miter"/>
<polygon points="2090.5,752.5 2082.5,748.5 2084.5,752.5 2082.5,756.5" fill="#000" stroke="#000" stroke-width="0.6" stroke-linejoin="miter"/>
<path d="M2065.5,752.5 L2084.5,752.5" fill="none" stroke="#000" stroke-width="1" stroke-linejoin="miter"/>
<polygon points="2218.5,752.5 2210.5,748.5 2212.5,752.5 2210.5,756.5" fill="#000" stroke="#000" stroke-width="0.6" stroke-linejoin="miter"/>
<path d="M2180.5,752.5 L2212.5,752.5" fill="none" stroke="#000" stroke-width="1" stroke-linejoin="miter"/>
<polygon points="2090.5,777.5 2082.5,773.5 2084.5,777.5 2082.5,781.5" fill="#000" stroke="#000" stroke-width="0.6" stroke-linejoin="miter"/>
<path d="M2065.5,777.5 L2084.5,777.5" fill="none" stroke="#000" stroke-width="1" stroke-linejoin="miter"/>
<polygon points="2218.5,777.5 2210.5,773.5 2212.5,777.5 2210.5,781.5" fill="#000" stroke="#000" stroke-width="0.6" stroke-linejoin="miter"/>
<path d="M2180.5,777.5 L2212.5,777.5" fill="none" stroke="#000" stroke-width="1" stroke-linejoin="miter"/>
<polygon points="2090.5,802.5 2082.5,798.5 2084.5,802.5 2082.5,806.5" fill="#000" stroke="#000" stroke-width="0.6" stroke-linejoin="miter"/>
<path d="M2065.5,802.5 L2084.5,802.5" fill="none" stroke="#000" stroke-width="1" stroke-linejoin="miter"/>
<polygon points="2218.5,802.5 2210.5,798.5 2212.5,802.5 2210.5,806.5" fill="#000" stroke="#000" stroke-width="0.6" stroke-linejoin="miter"/>
<path d="M2180.5,802.5 L2212.5,802.5" fill="none" stroke="#000" stroke-width="1" stroke-linejoin="miter"/>
<polygon points="2090.5,827.5 2082.5,823.5 2084.5,827.5 2082.5,831.5" fill="#000" stroke="#000" stroke-width="0.6" stroke-linejoin="miter"/>
<path d="M2065.5,827.5 L2084.5,827.5" fill="none" stroke="#000" stroke-width="1" stroke-linejoin="miter"/>
<polygon points="2218.5,827.5 2210.5,823.5 2212.5,827.5 2210.5,831.5" fill="#000" stroke="#000" stroke-width="0.6" stroke-linejoin="miter"/>
<path d="M2180.5,827.5 L2212.5,827.5" fill="none" stroke="#000" stroke-width="1" stroke-linejoin="miter"/>
<polygon points="1650,868 1644.5,879.0 1650.0,876.8 1655.5,879.0" fill="#005700" stroke="#005700" stroke-width="0.6" stroke-linejoin="miter"/>
<path d="M1570.5,933 L1650,933 L1650.0,876.8" fill="none" stroke="#005700" stroke-width="2" stroke-linejoin="miter"/>
<polygon points="1650.5,1075.5 1639.5,1070.0 1641.7,1075.5 1639.5,1081.0" fill="#68e2e2" stroke="#68e2e2" stroke-width="0.6" stroke-linejoin="miter"/>
<path d="M1570.5,1110.5 L1570.5,1075.5 L1641.7,1075.5" fill="none" stroke="#68e2e2" stroke-width="2" stroke-linejoin="miter"/>
<polygon points="1929,1337.5 1918.0,1332.0 1920.2,1337.5 1918.0,1343.0" fill="#68e2e2" stroke="#68e2e2" stroke-width="0.6" stroke-linejoin="miter"/>
<path d="M1730.5,1075.5 L1860.5,1075.5 L1860.5,1337.5 L1920.2,1337.5" fill="none" stroke="#68e2e2" stroke-width="2" stroke-linejoin="miter"/>
<polygon points="1929,1156.5 1918.0,1151.0 1920.2,1156.5 1918.0,1162.0" fill="#68e2e2" stroke="#68e2e2" stroke-width="0.6" stroke-linejoin="miter"/>
<path d="M1860.5,1156.5 L1920.2,1156.5" fill="none" stroke="#68e2e2" stroke-width="2" stroke-linejoin="miter"/>
<polygon points="1929,1247.5 1918.0,1242.0 1920.2,1247.5 1918.0,1253.0" fill="#68e2e2" stroke="#68e2e2" stroke-width="0.6" stroke-linejoin="miter"/>
<path d="M1860.5,1247.5 L1920.2,1247.5" fill="none" stroke="#68e2e2" stroke-width="2" stroke-linejoin="miter"/>
<polygon points="1760.5,1175.5 1752.5,1171.5 1754.5,1175.5 1752.5,1179.5" fill="#000" stroke="#000" stroke-width="0.6" stroke-linejoin="miter"/>
<path d="M1730.5,1175.5 L1754.5,1175.5" fill="none" stroke="#000" stroke-width="1" stroke-linejoin="miter"/>
<polygon points="1929,1191.0 1921.02,1186.95 1923.0,1190.97 1920.98,1194.95" fill="#000" stroke="#000" stroke-width="0.6" stroke-linejoin="miter"/>
<path d="M1840.5,1190.5 L1923.0,1190.97" fill="none" stroke="#000" stroke-width="1" stroke-linejoin="miter"/>
<polygon points="2030.5,1173.5 2022.5,1169.5 2024.5,1173.5 2022.5,1177.5" fill="#000" stroke="#000" stroke-width="0.6" stroke-linejoin="miter"/>
<path d="M2010.5,1173.5 L2024.5,1173.5" fill="none" stroke="#000" stroke-width="1" stroke-linejoin="miter"/>
<polygon points="2140.5,1173.5 2132.5,1169.5 2134.5,1173.5 2132.5,1177.5" fill="#000" stroke="#000" stroke-width="0.6" stroke-linejoin="miter"/>
<path d="M2100.5,1173.5 L2134.5,1173.5" fill="none" stroke="#000" stroke-width="1" stroke-linejoin="miter"/>
<polygon points="1760.5,1265.5 1752.5,1261.5 1754.5,1265.5 1752.5,1269.5" fill="#000" stroke="#000" stroke-width="0.6" stroke-linejoin="miter"/>
<path d="M1730.5,1265.5 L1754.5,1265.5" fill="none" stroke="#000" stroke-width="1" stroke-linejoin="miter"/>
<polygon points="1929,1281.0 1921.02,1276.95 1923.0,1280.97 1920.98,1284.95" fill="#000" stroke="#000" stroke-width="0.6" stroke-linejoin="miter"/>
<path d="M1840.5,1280.5 L1923.0,1280.97" fill="none" stroke="#000" stroke-width="1" stroke-linejoin="miter"/>
<polygon points="2030.5,1263.5 2022.5,1259.5 2024.5,1263.5 2022.5,1267.5" fill="#000" stroke="#000" stroke-width="0.6" stroke-linejoin="miter"/>
<path d="M2010.5,1263.5 L2024.5,1263.5" fill="none" stroke="#000" stroke-width="1" stroke-linejoin="miter"/>
<polygon points="2140.5,1263.5 2132.5,1259.5 2134.5,1263.5 2132.5,1267.5" fill="#000" stroke="#000" stroke-width="0.6" stroke-linejoin="miter"/>
<path d="M2100.5,1263.5 L2134.5,1263.5" fill="none" stroke="#000" stroke-width="1" stroke-linejoin="miter"/>
<polygon points="1760.5,1355.5 1752.5,1351.5 1754.5,1355.5 1752.5,1359.5" fill="#000" stroke="#000" stroke-width="0.6" stroke-linejoin="miter"/>
<path d="M1730.5,1355.5 L1754.5,1355.5" fill="none" stroke="#000" stroke-width="1" stroke-linejoin="miter"/>
<polygon points="1929,1371.0 1921.02,1366.95 1923.0,1370.97 1920.98,1374.95" fill="#000" stroke="#000" stroke-width="0.6" stroke-linejoin="miter"/>
<path d="M1840.5,1370.5 L1923.0,1370.97" fill="none" stroke="#000" stroke-width="1" stroke-linejoin="miter"/>
<polygon points="2030.5,1353.5 2022.5,1349.5 2024.5,1353.5 2022.5,1357.5" fill="#000" stroke="#000" stroke-width="0.6" stroke-linejoin="miter"/>
<path d="M2010.5,1353.5 L2024.5,1353.5" fill="none" stroke="#000" stroke-width="1" stroke-linejoin="miter"/>
<polygon points="2140.5,1353.5 2132.5,1349.5 2134.5,1353.5 2132.5,1357.5" fill="#000" stroke="#000" stroke-width="0.6" stroke-linejoin="miter"/>
<path d="M2100.5,1353.5 L2134.5,1353.5" fill="none" stroke="#000" stroke-width="1" stroke-linejoin="miter"/>
<polygon points="1830.5,1443 1819.5,1437.5 1821.7,1443.0 1819.5,1448.5" fill="#b09500" stroke="#b09500" stroke-width="0.6" stroke-linejoin="miter"/>
<path d="M1810.5,1443 L1821.7,1443.0" fill="none" stroke="#b09500" stroke-width="2" stroke-linejoin="miter"/>
<polygon points="1930.5,1443 1922.5,1439.0 1924.5,1443.0 1922.5,1447.0" fill="#000" stroke="#000" stroke-width="0.6" stroke-linejoin="miter"/>
<path d="M1910.5,1443 L1924.5,1443.0" fill="none" stroke="#000" stroke-width="1" stroke-linejoin="miter"/>
<polygon points="2030.5,1443 2022.5,1439.0 2024.5,1443.0 2022.5,1447.0" fill="#000" stroke="#000" stroke-width="0.6" stroke-linejoin="miter"/>
<path d="M2010.5,1443 L2024.5,1443.0" fill="none" stroke="#000" stroke-width="1" stroke-linejoin="miter"/>
<polygon points="2140.5,1443 2132.5,1439.0 2134.5,1443.0 2132.5,1447.0" fill="#000" stroke="#000" stroke-width="0.6" stroke-linejoin="miter"/>
<path d="M2100.5,1443 L2134.5,1443.0" fill="none" stroke="#000" stroke-width="1" stroke-linejoin="miter"/>
<polygon points="1830.5,1535.5 1819.5,1530.0 1821.7,1535.5 1819.5,1541.0" fill="#b20000" stroke="#b20000" stroke-width="0.6" stroke-linejoin="miter"/>
<path d="M1810.5,1535.5 L1821.7,1535.5" fill="none" stroke="#b20000" stroke-width="2" stroke-linejoin="miter"/>
<polygon points="1930.5,1535.5 1922.5,1531.5 1924.5,1535.5 1922.5,1539.5" fill="#000" stroke="#000" stroke-width="0.6" stroke-linejoin="miter"/>
<path d="M1910.5,1535.5 L1924.5,1535.5" fill="none" stroke="#000" stroke-width="1" stroke-linejoin="miter"/>
<polygon points="2030.5,1535.5 2022.5,1531.5 2024.5,1535.5 2022.5,1539.5" fill="#000" stroke="#000" stroke-width="0.6" stroke-linejoin="miter"/>
<path d="M2010.5,1535.5 L2024.5,1535.5" fill="none" stroke="#000" stroke-width="1" stroke-linejoin="miter"/>
<polygon points="2140.5,1535.5 2132.5,1531.5 2134.5,1535.5 2132.5,1539.5" fill="#000" stroke="#000" stroke-width="0.6" stroke-linejoin="miter"/>
<path d="M2100.5,1535.5 L2134.5,1535.5" fill="none" stroke="#000" stroke-width="1" stroke-linejoin="miter"/>
<polygon points="1830.5,1625.5 1819.5,1620.0 1821.7,1625.5 1819.5,1631.0" fill="#006eaf" stroke="#006eaf" stroke-width="0.6" stroke-linejoin="miter"/>
<path d="M1810.5,1625.5 L1821.7,1625.5" fill="none" stroke="#006eaf" stroke-width="2" stroke-linejoin="miter"/>
<polygon points="1930.5,1625.5 1922.5,1621.5 1924.5,1625.5 1922.5,1629.5" fill="#000" stroke="#000" stroke-width="0.6" stroke-linejoin="miter"/>
<path d="M1910.5,1625.5 L1924.5,1625.5" fill="none" stroke="#000" stroke-width="1" stroke-linejoin="miter"/>
<polygon points="2030.5,1625.5 2022.5,1621.5 2024.5,1625.5 2022.5,1629.5" fill="#000" stroke="#000" stroke-width="0.6" stroke-linejoin="miter"/>
<path d="M2010.5,1625.5 L2024.5,1625.5" fill="none" stroke="#000" stroke-width="1" stroke-linejoin="miter"/>
<polygon points="2140.5,1625.5 2132.5,1621.5 2134.5,1625.5 2132.5,1629.5" fill="#000" stroke="#000" stroke-width="0.6" stroke-linejoin="miter"/>
<path d="M2100.5,1625.5 L2134.5,1625.5" fill="none" stroke="#000" stroke-width="1" stroke-linejoin="miter"/>
<polygon points="233,1320.5 237.0,1312.5 233.0,1314.5 229.0,1312.5" fill="#000" stroke="#000" stroke-width="0.6" stroke-linejoin="miter"/>
<path d="M233,1300.5 L233.0,1314.5" fill="none" stroke="#000" stroke-width="1" stroke-linejoin="miter"/>
<polygon points="1020.5,1320.5 1024.5,1312.5 1020.5,1314.5 1016.5,1312.5" fill="#000" stroke="#000" stroke-width="0.6" stroke-linejoin="miter"/>
<path d="M1020.5,1300.5 L1020.5,1314.5" fill="none" stroke="#000" stroke-width="1" stroke-linejoin="miter"/>
<polygon points="485.5,1370.5 480.0,1381.5 485.5,1379.3 491.0,1381.5" fill="#b09500" stroke="#b09500" stroke-width="0.6" stroke-linejoin="miter"/>
<path d="M485.5,1430.5 L485.5,1379.3" fill="none" stroke="#b09500" stroke-width="2" stroke-linejoin="miter"/>
<polygon points="875.5,1370.5 870.0,1381.5 875.5,1379.3 881.0,1381.5" fill="#b09500" stroke="#b09500" stroke-width="0.6" stroke-linejoin="miter"/>
<path d="M875.5,1430.5 L875.5,1379.3" fill="none" stroke="#b09500" stroke-width="2" stroke-linejoin="miter"/>
<polygon points="230.5,1410.5 234.5,1402.5 230.5,1404.5 226.5,1402.5" fill="#000" stroke="#000" stroke-width="0.6" stroke-linejoin="miter"/>
<path d="M230.5,1370.5 L230.5,1404.5" fill="none" stroke="#000" stroke-width="1" stroke-linejoin="miter"/>
<polygon points="620.5,1410.5 624.5,1402.5 620.5,1404.5 616.5,1402.5" fill="#000" stroke="#000" stroke-width="0.6" stroke-linejoin="miter"/>
<path d="M620.5,1370.5 L620.5,1404.5" fill="none" stroke="#000" stroke-width="1" stroke-linejoin="miter"/>
<polygon points="1020.5,1410.5 1024.5,1402.5 1020.5,1404.5 1016.5,1402.5" fill="#000" stroke="#000" stroke-width="0.6" stroke-linejoin="miter"/>
<path d="M1020.5,1370.5 L1020.5,1404.5" fill="none" stroke="#000" stroke-width="1" stroke-linejoin="miter"/>
<polygon points="655.5,1425.5 663.5,1429.5 661.5,1425.5 663.5,1421.5" fill="#000" stroke="#000" stroke-width="0.6" stroke-linejoin="miter"/>
<path d="M720.5,1370.5 L720.5,1400.5 L690.5,1400.5 L690.5,1425.5 L661.5,1425.5" fill="none" stroke="#000" stroke-width="1" stroke-linejoin="miter"/>
<polygon points="320.5,1450.5 312.5,1446.5 314.5,1450.5 312.5,1454.5" fill="#000" stroke="#000" stroke-width="0.6" stroke-linejoin="miter"/>
<path d="M230.5,1440.5 L230.5,1450.5 L314.5,1450.5" fill="none" stroke="#000" stroke-width="1" stroke-linejoin="miter"/>
<polygon points="290.5,1500.5 294.5,1492.5 290.5,1494.5 286.5,1492.5" fill="#000" stroke="#000" stroke-width="0.6" stroke-linejoin="miter"/>
<path d="M290.5,1450.5 L290.5,1494.5" fill="none" stroke="#000" stroke-width="1" stroke-linejoin="miter"/>
<polygon points="715.5,1450.5 707.5,1446.5 709.5,1450.5 707.5,1454.5" fill="#000" stroke="#000" stroke-width="0.6" stroke-linejoin="miter"/>
<path d="M620.5,1440.5 L620.5,1450.5 L709.5,1450.5" fill="none" stroke="#000" stroke-width="1" stroke-linejoin="miter"/>
<polygon points="687,1500.5 691.0,1492.5 687.0,1494.5 683.0,1492.5" fill="#000" stroke="#000" stroke-width="0.6" stroke-linejoin="miter"/>
<path d="M687,1450.5 L687.0,1494.5" fill="none" stroke="#000" stroke-width="1" stroke-linejoin="miter"/>
<polygon points="1120.5,1450.5 1112.5,1446.5 1114.5,1450.5 1112.5,1454.5" fill="#000" stroke="#000" stroke-width="0.6" stroke-linejoin="miter"/>
<path d="M1020.5,1440.5 L1020.5,1450.5 L1114.5,1450.5" fill="none" stroke="#000" stroke-width="1" stroke-linejoin="miter"/>
<polygon points="1090.5,1500.5 1094.5,1492.5 1090.5,1494.5 1086.5,1492.5" fill="#000" stroke="#000" stroke-width="0.6" stroke-linejoin="miter"/>
<path d="M1090.5,1450.5 L1090.5,1494.5" fill="none" stroke="#000" stroke-width="1" stroke-linejoin="miter"/>
<polygon points="471,1320.5 475.0,1312.5 471.0,1314.5 467.0,1312.5" fill="#000" stroke="#000" stroke-width="0.6" stroke-linejoin="miter"/>
<path d="M450.5,1208 L471,1208 L471.0,1314.5" fill="none" stroke="#000" stroke-width="1" stroke-linejoin="miter"/>
<polygon points="864.5,1320.5 868.5,1312.5 864.5,1314.5 860.5,1312.5" fill="#000" stroke="#000" stroke-width="0.6" stroke-linejoin="miter"/>
<path d="M840.5,1208 L864.5,1208 L864.5,1314.5" fill="none" stroke="#000" stroke-width="1" stroke-linejoin="miter"/>
<polygon points="511.5,1320.5 515.5,1312.5 511.5,1314.5 507.5,1312.5" fill="#000" stroke="#000" stroke-width="0.6" stroke-linejoin="miter"/>
<path d="M864.5,1208 L864.5,1180.5 L511.5,1180.5 L511.5,1314.5" fill="none" stroke="#000" stroke-width="1" stroke-linejoin="miter"/>
<polygon points="906.5,1320.5 910.5,1312.5 906.5,1314.5 902.5,1312.5" fill="#000" stroke="#000" stroke-width="0.6" stroke-linejoin="miter"/>
<path d="M1240.5,1208 L1260.5,1208 L1260.5,1160.5 L906.5,1160.5 L906.5,1314.5" fill="none" stroke="#000" stroke-width="1" stroke-linejoin="miter"/>
<path d="M628,1040.5 L628,1170" fill="none" stroke="#b20000" stroke-width="2" stroke-linejoin="miter"/>
<polygon points="231,1260.5 236.5,1249.5 231.0,1251.7 225.5,1249.5" fill="#b20000" stroke="#b20000" stroke-width="0.6" stroke-linejoin="miter"/>
<path d="M628,1170 L231,1170 L231.0,1251.7" fill="none" stroke="#b20000" stroke-width="2" stroke-linejoin="miter"/>
<polygon points="1020.5,1260.5 1026.0,1249.5 1020.5,1251.7 1015.0,1249.5" fill="#b20000" stroke="#b20000" stroke-width="0.6" stroke-linejoin="miter"/>
<path d="M628,1170 L1020.5,1170 L1020.5,1251.7" fill="none" stroke="#b20000" stroke-width="2" stroke-linejoin="miter"/>
<rect x="372.5" y="448.0" width="5" height="5" fill="#000"/>
<rect x="392.5" y="448.0" width="5" height="5" fill="#000"/>
<rect x="412.5" y="448.0" width="5" height="5" fill="#000"/>
<rect x="432.5" y="448.0" width="5" height="5" fill="#000"/>
<rect x="452.5" y="448.0" width="5" height="5" fill="#000"/>
<rect x="472.5" y="448.0" width="5" height="5" fill="#000"/>
<rect x="492.5" y="448.0" width="5" height="5" fill="#000"/>
<rect x="512.5" y="448.0" width="5" height="5" fill="#000"/>
<rect x="532.5" y="448.0" width="5" height="5" fill="#000"/>
<rect x="552.5" y="448.0" width="5" height="5" fill="#000"/>
<rect x="572.5" y="448.0" width="5" height="5" fill="#000"/>
<rect x="592.5" y="448.0" width="5" height="5" fill="#000"/>
<rect x="612.5" y="448.0" width="5" height="5" fill="#000"/>
<rect x="632.5" y="448.0" width="5" height="5" fill="#000"/>
<rect x="652.5" y="448.0" width="5" height="5" fill="#000"/>
<rect x="672.5" y="448.0" width="5" height="5" fill="#000"/>
<rect x="692.5" y="448.0" width="5" height="5" fill="#000"/>
<rect x="712.5" y="448.0" width="5" height="5" fill="#000"/>
<rect x="732.5" y="448.0" width="5" height="5" fill="#000"/>
<rect x="752.5" y="448.0" width="5" height="5" fill="#000"/>
<rect x="772.5" y="448.0" width="5" height="5" fill="#000"/>
<rect x="792.5" y="448.0" width="5" height="5" fill="#000"/>
<rect x="812.5" y="448.0" width="5" height="5" fill="#000"/>
<rect x="832.5" y="448.0" width="5" height="5" fill="#000"/>
<rect x="852.5" y="448.0" width="5" height="5" fill="#000"/>
<rect x="872.5" y="448.0" width="5" height="5" fill="#000"/>
<rect x="892.5" y="448.0" width="5" height="5" fill="#000"/>
<rect x="910.0" y="448.0" width="5" height="5" fill="#000"/>
<rect x="910.0" y="468.0" width="5" height="5" fill="#000"/>
<rect x="910.0" y="488.0" width="5" height="5" fill="#000"/>
<rect x="910.0" y="508.0" width="5" height="5" fill="#000"/>
<rect x="910.0" y="528.0" width="5" height="5" fill="#000"/>
<rect x="910.0" y="548.0" width="5" height="5" fill="#000"/>
<rect x="910.0" y="568.0" width="5" height="5" fill="#000"/>
<rect x="910.0" y="588.0" width="5" height="5" fill="#000"/>
<rect x="910.0" y="608.0" width="5" height="5" fill="#000"/>
<rect x="910.0" y="628.0" width="5" height="5" fill="#000"/>
<rect x="910.0" y="648.0" width="5" height="5" fill="#000"/>
<rect x="910.0" y="668.0" width="5" height="5" fill="#000"/>
<rect x="910.0" y="688.0" width="5" height="5" fill="#000"/>
<rect x="910.0" y="708.0" width="5" height="5" fill="#000"/>
<rect x="910.0" y="728.0" width="5" height="5" fill="#000"/>
<rect x="910.0" y="748.0" width="5" height="5" fill="#000"/>
<rect x="910.0" y="748.0" width="5" height="5" fill="#000"/>
<rect x="930.0" y="748.0" width="5" height="5" fill="#000"/>
<rect x="950.0" y="748.0" width="5" height="5" fill="#000"/>
<rect x="970.0" y="748.0" width="5" height="5" fill="#000"/>
<rect x="990.0" y="748.0" width="5" height="5" fill="#000"/>
<rect x="1010.0" y="748.0" width="5" height="5" fill="#000"/>
<rect x="1028.0" y="748.0" width="5" height="5" fill="#000"/>
<rect x="1028.0" y="748.0" width="5" height="5" fill="#000"/>
<rect x="1028.0" y="768.0" width="5" height="5" fill="#000"/>
<rect x="1028.0" y="788.0" width="5" height="5" fill="#000"/>
<rect x="1028.0" y="808.0" width="5" height="5" fill="#000"/>
<rect x="1028.0" y="828.0" width="5" height="5" fill="#000"/>
<rect x="1028.0" y="848.0" width="5" height="5" fill="#000"/>
<rect x="1028.0" y="868.0" width="5" height="5" fill="#000"/>
<rect x="1028.0" y="888.0" width="5" height="5" fill="#000"/>
<rect x="1028.0" y="908.0" width="5" height="5" fill="#000"/>
<rect x="1028.0" y="928.0" width="5" height="5" fill="#000"/>
<rect x="1028.0" y="948.0" width="5" height="5" fill="#000"/>
<rect x="1028.0" y="968.0" width="5" height="5" fill="#000"/>
<rect x="1028.0" y="988.0" width="5" height="5" fill="#000"/>
<rect x="1028.0" y="1008.0" width="5" height="5" fill="#000"/>
<rect x="1028.0" y="1028.0" width="5" height="5" fill="#000"/>
<rect x="1028.0" y="1048.0" width="5" height="5" fill="#000"/>
<rect x="1028.0" y="1068.0" width="5" height="5" fill="#000"/>
<rect x="1028.0" y="1088.0" width="5" height="5" fill="#000"/>
<rect x="1028.0" y="1108.0" width="5" height="5" fill="#000"/>
<rect x="1050.2" y="1108.0" width="5" height="5" fill="#000"/>
<rect x="1070.2" y="1108.0" width="5" height="5" fill="#000"/>
<rect x="1090.2" y="1108.0" width="5" height="5" fill="#000"/>
<rect x="1110.2" y="1108.0" width="5" height="5" fill="#000"/>
<rect x="1130.2" y="1108.0" width="5" height="5" fill="#000"/>
<rect x="1150.2" y="1108.0" width="5" height="5" fill="#000"/>
<rect x="1170.2" y="1108.0" width="5" height="5" fill="#000"/>
<rect x="1190.2" y="1108.0" width="5" height="5" fill="#000"/>
<rect x="1210.2" y="1108.0" width="5" height="5" fill="#000"/>
<rect x="1230.2" y="1108.0" width="5" height="5" fill="#000"/>
<rect x="1250.2" y="1108.0" width="5" height="5" fill="#000"/>
<rect x="1270.2" y="1108.0" width="5" height="5" fill="#000"/>
<rect x="1290.2" y="1108.0" width="5" height="5" fill="#000"/>
<rect x="1310.2" y="1108.0" width="5" height="5" fill="#000"/>
<rect x="1330.2" y="1108.0" width="5" height="5" fill="#000"/>
<rect x="1348.0" y="1110.0" width="5" height="5" fill="#000"/>
<rect x="1348.0" y="1130.0" width="5" height="5" fill="#000"/>
<rect x="1348.0" y="1150.0" width="5" height="5" fill="#000"/>
<rect x="1348.0" y="1170.0" width="5" height="5" fill="#000"/>
<rect x="1348.0" y="1190.0" width="5" height="5" fill="#000"/>
<rect x="1348.0" y="1210.0" width="5" height="5" fill="#000"/>
<rect x="1348.0" y="1230.0" width="5" height="5" fill="#000"/>
<rect x="1348.0" y="1250.0" width="5" height="5" fill="#000"/>
<rect x="1348.0" y="1270.0" width="5" height="5" fill="#000"/>
<rect x="1348.0" y="1290.0" width="5" height="5" fill="#000"/>
<rect x="1348.0" y="1310.0" width="5" height="5" fill="#000"/>
<rect x="1348.0" y="1330.0" width="5" height="5" fill="#000"/>
<rect x="1348.0" y="1350.0" width="5" height="5" fill="#000"/>
<rect x="1348.0" y="1370.0" width="5" height="5" fill="#000"/>
<rect x="1348.0" y="1390.0" width="5" height="5" fill="#000"/>
<rect x="1350.4" y="1408.0" width="5" height="5" fill="#000"/>
<rect x="1370.4" y="1407.87" width="5" height="5" fill="#000"/>
<rect x="1390.4" y="1407.75" width="5" height="5" fill="#000"/>
<rect x="1410.4" y="1407.62" width="5" height="5" fill="#000"/>
<rect x="1430.4" y="1407.49" width="5" height="5" fill="#000"/>
<rect x="1450.4" y="1407.37" width="5" height="5" fill="#000"/>
<rect x="1470.4" y="1407.24" width="5" height="5" fill="#000"/>
<rect x="1490.4" y="1407.11" width="5" height="5" fill="#000"/>
<rect x="1510.4" y="1406.99" width="5" height="5" fill="#000"/>
<rect x="1530.4" y="1406.86" width="5" height="5" fill="#000"/>
<rect x="1550.4" y="1406.73" width="5" height="5" fill="#000"/>
<rect x="1570.4" y="1406.61" width="5" height="5" fill="#000"/>
<rect x="1590.4" y="1406.48" width="5" height="5" fill="#000"/>
<rect x="1610.4" y="1406.36" width="5" height="5" fill="#000"/>
<rect x="1630.4" y="1406.23" width="5" height="5" fill="#000"/>
<rect x="1650.4" y="1406.1" width="5" height="5" fill="#000"/>
<rect x="1670.4" y="1405.98" width="5" height="5" fill="#000"/>
<rect x="1690.4" y="1405.85" width="5" height="5" fill="#000"/>
<rect x="1710.4" y="1405.72" width="5" height="5" fill="#000"/>
<rect x="1730.4" y="1405.6" width="5" height="5" fill="#000"/>
<rect x="1750.4" y="1405.47" width="5" height="5" fill="#000"/>
<rect x="1770.4" y="1405.34" width="5" height="5" fill="#000"/>
<rect x="1790.4" y="1405.22" width="5" height="5" fill="#000"/>
<rect x="1810.4" y="1405.09" width="5" height="5" fill="#000"/>
<rect x="1830.4" y="1404.96" width="5" height="5" fill="#000"/>
<rect x="1850.4" y="1404.84" width="5" height="5" fill="#000"/>
<rect x="1870.4" y="1404.71" width="5" height="5" fill="#000"/>
<rect x="1890.4" y="1404.58" width="5" height="5" fill="#000"/>
<rect x="1910.4" y="1404.46" width="5" height="5" fill="#000"/>
<rect x="1930.4" y="1404.33" width="5" height="5" fill="#000"/>
<rect x="1950.4" y="1404.2" width="5" height="5" fill="#000"/>
<rect x="1970.4" y="1404.08" width="5" height="5" fill="#000"/>
<rect x="1982" y="1408.5" width="5" height="5" fill="#000"/>
<rect x="1982.5" y="1427.5" width="5" height="5" fill="#000"/>
<rect x="1982.5" y="1447.5" width="5" height="5" fill="#000"/>
<rect x="1982.5" y="1467.5" width="5" height="5" fill="#000"/>
<rect x="1982.5" y="1487.5" width="5" height="5" fill="#000"/>
<rect x="1982.5" y="1507.5" width="5" height="5" fill="#000"/>
<rect x="1982.5" y="1527.5" width="5" height="5" fill="#000"/>
<rect x="1982.5" y="1547.5" width="5" height="5" fill="#000"/>
<rect x="1982.5" y="1567.5" width="5" height="5" fill="#000"/>
<rect x="1379.5" y="1579.0" width="5" height="5" fill="#000"/>
<rect x="1399.5" y="1579.0" width="5" height="5" fill="#000"/>
<rect x="1419.5" y="1579.0" width="5" height="5" fill="#000"/>
<rect x="1439.5" y="1579.0" width="5" height="5" fill="#000"/>
<rect x="1459.5" y="1579.0" width="5" height="5" fill="#000"/>
<rect x="1479.5" y="1579.0" width="5" height="5" fill="#000"/>
<rect x="1499.5" y="1579.0" width="5" height="5" fill="#000"/>
<rect x="1519.5" y="1579.0" width="5" height="5" fill="#000"/>
<rect x="1539.5" y="1579.0" width="5" height="5" fill="#000"/>
<rect x="1559.5" y="1579.0" width="5" height="5" fill="#000"/>
<rect x="1579.5" y="1579.0" width="5" height="5" fill="#000"/>
<rect x="1599.5" y="1579.0" width="5" height="5" fill="#000"/>
<rect x="1619.5" y="1579.0" width="5" height="5" fill="#000"/>
<rect x="1639.5" y="1579.0" width="5" height="5" fill="#000"/>
<rect x="1659.5" y="1579.0" width="5" height="5" fill="#000"/>
<rect x="1679.5" y="1579.0" width="5" height="5" fill="#000"/>
<rect x="1699.5" y="1579.0" width="5" height="5" fill="#000"/>
<rect x="1719.5" y="1579.0" width="5" height="5" fill="#000"/>
<rect x="1739.5" y="1579.0" width="5" height="5" fill="#000"/>
<rect x="1759.5" y="1579.0" width="5" height="5" fill="#000"/>
<rect x="1779.5" y="1579.0" width="5" height="5" fill="#000"/>
<rect x="1799.5" y="1579.0" width="5" height="5" fill="#000"/>
<rect x="1819.5" y="1579.0" width="5" height="5" fill="#000"/>
<rect x="1839.5" y="1579.0" width="5" height="5" fill="#000"/>
<rect x="1859.5" y="1579.0" width="5" height="5" fill="#000"/>
<rect x="1879.5" y="1579.0" width="5" height="5" fill="#000"/>
<rect x="1899.5" y="1579.0" width="5" height="5" fill="#000"/>
<rect x="1919.5" y="1579.0" width="5" height="5" fill="#000"/>
<rect x="1939.5" y="1579.0" width="5" height="5" fill="#000"/>
<rect x="1959.5" y="1579.0" width="5" height="5" fill="#000"/>
<rect x="1980.5" y="1579.0" width="5" height="5" fill="#000"/>
<rect x="1350.5" y="1579.0" width="5" height="5" fill="#000"/>
<rect x="1350.5" y="1599.7" width="5" height="5" fill="#000"/>
<rect x="1350.5" y="1619.7" width="5" height="5" fill="#000"/>
<rect x="1350.5" y="1639.7" width="5" height="5" fill="#000"/>
<rect x="1350.5" y="1659.7" width="5" height="5" fill="#000"/>
<rect x="1350.5" y="1679.7" width="5" height="5" fill="#000"/>
<rect x="1350.5" y="1699.7" width="5" height="5" fill="#000"/>
<rect x="1350.5" y="1719.7" width="5" height="5" fill="#000"/>
<rect x="80.4" y="1718.5" width="5" height="5" fill="#000"/>
<rect x="100.4" y="1718.56" width="5" height="5" fill="#000"/>
<rect x="120.4" y="1718.61" width="5" height="5" fill="#000"/>
<rect x="140.4" y="1718.67" width="5" height="5" fill="#000"/>
<rect x="160.4" y="1718.72" width="5" height="5" fill="#000"/>
<rect x="180.4" y="1718.78" width="5" height="5" fill="#000"/>
<rect x="200.4" y="1718.83" width="5" height="5" fill="#000"/>
<rect x="220.4" y="1718.89" width="5" height="5" fill="#000"/>
<rect x="240.4" y="1718.94" width="5" height="5" fill="#000"/>
<rect x="260.4" y="1719.0" width="5" height="5" fill="#000"/>
<rect x="280.4" y="1719.05" width="5" height="5" fill="#000"/>
<rect x="300.4" y="1719.11" width="5" height="5" fill="#000"/>
<rect x="320.4" y="1719.16" width="5" height="5" fill="#000"/>
<rect x="340.4" y="1719.22" width="5" height="5" fill="#000"/>
<rect x="360.4" y="1719.27" width="5" height="5" fill="#000"/>
<rect x="380.4" y="1719.33" width="5" height="5" fill="#000"/>
<rect x="400.4" y="1719.38" width="5" height="5" fill="#000"/>
<rect x="420.4" y="1719.44" width="5" height="5" fill="#000"/>
<rect x="440.4" y="1719.49" width="5" height="5" fill="#000"/>
<rect x="460.4" y="1719.55" width="5" height="5" fill="#000"/>
<rect x="480.4" y="1719.6" width="5" height="5" fill="#000"/>
<rect x="500.4" y="1719.66" width="5" height="5" fill="#000"/>
<rect x="520.4" y="1719.71" width="5" height="5" fill="#000"/>
<rect x="540.4" y="1719.77" width="5" height="5" fill="#000"/>
<rect x="560.4" y="1719.82" width="5" height="5" fill="#000"/>
<rect x="580.4" y="1719.88" width="5" height="5" fill="#000"/>
<rect x="600.4" y="1719.93" width="5" height="5" fill="#000"/>
<rect x="620.4" y="1719.99" width="5" height="5" fill="#000"/>
<rect x="640.4" y="1720.04" width="5" height="5" fill="#000"/>
<rect x="660.4" y="1720.1" width="5" height="5" fill="#000"/>
<rect x="680.4" y="1720.15" width="5" height="5" fill="#000"/>
<rect x="700.4" y="1720.21" width="5" height="5" fill="#000"/>
<rect x="720.4" y="1720.26" width="5" height="5" fill="#000"/>
<rect x="740.4" y="1720.32" width="5" height="5" fill="#000"/>
<rect x="760.4" y="1720.37" width="5" height="5" fill="#000"/>
<rect x="780.4" y="1720.43" width="5" height="5" fill="#000"/>
<rect x="800.4" y="1720.48" width="5" height="5" fill="#000"/>
<rect x="820.4" y="1720.54" width="5" height="5" fill="#000"/>
<rect x="840.4" y="1720.59" width="5" height="5" fill="#000"/>
<rect x="860.4" y="1720.65" width="5" height="5" fill="#000"/>
<rect x="880.4" y="1720.7" width="5" height="5" fill="#000"/>
<rect x="900.4" y="1720.76" width="5" height="5" fill="#000"/>
<rect x="920.4" y="1720.82" width="5" height="5" fill="#000"/>
<rect x="940.4" y="1720.87" width="5" height="5" fill="#000"/>
<rect x="960.4" y="1720.93" width="5" height="5" fill="#000"/>
<rect x="980.4" y="1720.98" width="5" height="5" fill="#000"/>
<rect x="1000.4" y="1721.04" width="5" height="5" fill="#000"/>
<rect x="1020.4" y="1721.09" width="5" height="5" fill="#000"/>
<rect x="1040.4" y="1721.15" width="5" height="5" fill="#000"/>
<rect x="1060.4" y="1721.2" width="5" height="5" fill="#000"/>
<rect x="1080.4" y="1721.26" width="5" height="5" fill="#000"/>
<rect x="1100.4" y="1721.31" width="5" height="5" fill="#000"/>
<rect x="1120.4" y="1721.37" width="5" height="5" fill="#000"/>
<rect x="1140.4" y="1721.42" width="5" height="5" fill="#000"/>
<rect x="1160.4" y="1721.48" width="5" height="5" fill="#000"/>
<rect x="1180.4" y="1721.53" width="5" height="5" fill="#000"/>
<rect x="1200.4" y="1721.59" width="5" height="5" fill="#000"/>
<rect x="1220.4" y="1721.64" width="5" height="5" fill="#000"/>
<rect x="1240.4" y="1721.7" width="5" height="5" fill="#000"/>
<rect x="1260.4" y="1721.75" width="5" height="5" fill="#000"/>
<rect x="1280.4" y="1721.81" width="5" height="5" fill="#000"/>
<rect x="1300.4" y="1721.86" width="5" height="5" fill="#000"/>
<rect x="1320.4" y="1721.92" width="5" height="5" fill="#000"/>
<rect x="1340.4" y="1721.97" width="5" height="5" fill="#000"/>
<rect x="80.0" y="1040.4" width="5" height="5" fill="#000"/>
<rect x="80.0" y="1060.4" width="5" height="5" fill="#000"/>
<rect x="80.0" y="1080.4" width="5" height="5" fill="#000"/>
<rect x="80.0" y="1100.4" width="5" height="5" fill="#000"/>
<rect x="80.0" y="1120.4" width="5" height="5" fill="#000"/>
<rect x="80.0" y="1140.4" width="5" height="5" fill="#000"/>
<rect x="80.0" y="1160.4" width="5" height="5" fill="#000"/>
<rect x="80.0" y="1180.4" width="5" height="5" fill="#000"/>
<rect x="80.0" y="1200.4" width="5" height="5" fill="#000"/>
<rect x="80.0" y="1220.4" width="5" height="5" fill="#000"/>
<rect x="80.0" y="1240.4" width="5" height="5" fill="#000"/>
<rect x="80.0" y="1260.4" width="5" height="5" fill="#000"/>
<rect x="80.0" y="1280.4" width="5" height="5" fill="#000"/>
<rect x="80.0" y="1300.4" width="5" height="5" fill="#000"/>
<rect x="80.0" y="1320.4" width="5" height="5" fill="#000"/>
<rect x="80.0" y="1340.4" width="5" height="5" fill="#000"/>
<rect x="80.0" y="1360.4" width="5" height="5" fill="#000"/>
<rect x="80.0" y="1380.4" width="5" height="5" fill="#000"/>
<rect x="80.0" y="1400.4" width="5" height="5" fill="#000"/>
<rect x="80.0" y="1420.4" width="5" height="5" fill="#000"/>
<rect x="80.0" y="1440.4" width="5" height="5" fill="#000"/>
<rect x="80.0" y="1460.4" width="5" height="5" fill="#000"/>
<rect x="80.0" y="1480.4" width="5" height="5" fill="#000"/>
<rect x="80.0" y="1500.4" width="5" height="5" fill="#000"/>
<rect x="80.0" y="1520.4" width="5" height="5" fill="#000"/>
<rect x="80.0" y="1540.4" width="5" height="5" fill="#000"/>
<rect x="80.0" y="1560.4" width="5" height="5" fill="#000"/>
<rect x="80.0" y="1580.4" width="5" height="5" fill="#000"/>
<rect x="80.0" y="1600.4" width="5" height="5" fill="#000"/>
<rect x="80.0" y="1620.4" width="5" height="5" fill="#000"/>
<rect x="80.0" y="1640.4" width="5" height="5" fill="#000"/>
<rect x="80.0" y="1660.4" width="5" height="5" fill="#000"/>
<rect x="80.0" y="1680.4" width="5" height="5" fill="#000"/>
<rect x="80.0" y="1700.4" width="5" height="5" fill="#000"/>
<rect x="100.1" y="1040.0" width="5" height="5" fill="#000"/>
<rect x="120.1" y="1040.0" width="5" height="5" fill="#000"/>
<rect x="140.1" y="1040.0" width="5" height="5" fill="#000"/>
<rect x="160.1" y="1040.0" width="5" height="5" fill="#000"/>
<rect x="180.1" y="1040.0" width="5" height="5" fill="#000"/>
<rect x="200.1" y="1040.0" width="5" height="5" fill="#000"/>
<rect x="220.1" y="1040.0" width="5" height="5" fill="#000"/>
<rect x="240.1" y="1040.0" width="5" height="5" fill="#000"/>
<rect x="260.1" y="1040.0" width="5" height="5" fill="#000"/>
<rect x="280.1" y="1040.0" width="5" height="5" fill="#000"/>
<rect x="300.1" y="1040.0" width="5" height="5" fill="#000"/>
<rect x="320.1" y="1040.0" width="5" height="5" fill="#000"/>
<rect x="340.1" y="1040.0" width="5" height="5" fill="#000"/>
<rect x="360.1" y="1040.0" width="5" height="5" fill="#000"/>
<rect x="368.0" y="455.5" width="5" height="5" fill="#000"/>
<rect x="368.0" y="475.5" width="5" height="5" fill="#000"/>
<rect x="368.0" y="495.5" width="5" height="5" fill="#000"/>
<rect x="368.0" y="515.5" width="5" height="5" fill="#000"/>
<rect x="368.0" y="535.5" width="5" height="5" fill="#000"/>
<rect x="368.0" y="555.5" width="5" height="5" fill="#000"/>
<rect x="368.0" y="575.5" width="5" height="5" fill="#000"/>
<rect x="368.0" y="595.5" width="5" height="5" fill="#000"/>
<rect x="368.0" y="615.5" width="5" height="5" fill="#000"/>
<rect x="368.0" y="635.5" width="5" height="5" fill="#000"/>
<rect x="368.0" y="655.5" width="5" height="5" fill="#000"/>
<rect x="368.0" y="675.5" width="5" height="5" fill="#000"/>
<rect x="368.0" y="695.5" width="5" height="5" fill="#000"/>
<rect x="368.0" y="715.5" width="5" height="5" fill="#000"/>
<rect x="368.0" y="735.5" width="5" height="5" fill="#000"/>
<rect x="368.0" y="755.5" width="5" height="5" fill="#000"/>
<rect x="368.0" y="775.5" width="5" height="5" fill="#000"/>
<rect x="368.0" y="795.5" width="5" height="5" fill="#000"/>
<rect x="368.0" y="815.5" width="5" height="5" fill="#000"/>
<rect x="368.0" y="835.5" width="5" height="5" fill="#000"/>
<rect x="368.0" y="855.5" width="5" height="5" fill="#000"/>
<rect x="368.0" y="875.5" width="5" height="5" fill="#000"/>
<rect x="368.0" y="895.5" width="5" height="5" fill="#000"/>
<rect x="368.0" y="915.5" width="5" height="5" fill="#000"/>
<rect x="368.0" y="935.5" width="5" height="5" fill="#000"/>
<rect x="368.0" y="955.5" width="5" height="5" fill="#000"/>
<rect x="368.0" y="975.5" width="5" height="5" fill="#000"/>
<rect x="368.0" y="995.5" width="5" height="5" fill="#000"/>
<rect x="368.0" y="1015.5" width="5" height="5" fill="#000"/>
<rect x="368.0" y="1035.5" width="5" height="5" fill="#000"/>
<rect x="2197.5" y="671.0" width="5" height="5" fill="#000"/>
<rect x="2217.5" y="671.0" width="5" height="5" fill="#000"/>
<rect x="2237.5" y="671.0" width="5" height="5" fill="#000"/>
<rect x="2257.5" y="671.0" width="5" height="5" fill="#000"/>
<rect x="2277.5" y="671.0" width="5" height="5" fill="#000"/>
<rect x="2297.5" y="671.0" width="5" height="5" fill="#000"/>
<rect x="2317.5" y="671.0" width="5" height="5" fill="#000"/>
<rect x="2337.5" y="671.0" width="5" height="5" fill="#000"/>
<rect x="2357.5" y="671.0" width="5" height="5" fill="#000"/>
<rect x="2377.5" y="671.0" width="5" height="5" fill="#000"/>
<rect x="2397.5" y="671.0" width="5" height="5" fill="#000"/>
<rect x="2417.5" y="671.0" width="5" height="5" fill="#000"/>
<rect x="2437.5" y="671.0" width="5" height="5" fill="#000"/>
<rect x="2457.5" y="671.0" width="5" height="5" fill="#000"/>
<rect x="2477.5" y="671.0" width="5" height="5" fill="#000"/>
<rect x="2497.5" y="671.0" width="5" height="5" fill="#000"/>
<rect x="2517.5" y="671.0" width="5" height="5" fill="#000"/>
<rect x="2173.0" y="671.0" width="5" height="5" fill="#000"/>
<rect x="2173.0" y="673.0" width="5" height="5" fill="#000"/>
<rect x="2173.0" y="693.0" width="5" height="5" fill="#000"/>
<rect x="2173.0" y="713.0" width="5" height="5" fill="#000"/>
<rect x="2173.0" y="733.0" width="5" height="5" fill="#000"/>
<rect x="2173.0" y="753.0" width="5" height="5" fill="#000"/>
<rect x="2173.0" y="773.0" width="5" height="5" fill="#000"/>
<rect x="2173.0" y="793.0" width="5" height="5" fill="#000"/>
<rect x="2173.0" y="813.0" width="5" height="5" fill="#000"/>
<rect x="2173.0" y="833.0" width="5" height="5" fill="#000"/>
<rect x="2173.0" y="853.0" width="5" height="5" fill="#000"/>
<rect x="2191.5" y="853.0" width="5" height="5" fill="#000"/>
<rect x="2211.5" y="853.0" width="5" height="5" fill="#000"/>
<rect x="2231.5" y="853.0" width="5" height="5" fill="#000"/>
<rect x="2251.5" y="853.0" width="5" height="5" fill="#000"/>
<rect x="2271.5" y="853.0" width="5" height="5" fill="#000"/>
<rect x="2291.5" y="853.0" width="5" height="5" fill="#000"/>
<rect x="2311.5" y="853.0" width="5" height="5" fill="#000"/>
<rect x="2331.5" y="853.0" width="5" height="5" fill="#000"/>
<rect x="2351.5" y="853.0" width="5" height="5" fill="#000"/>
<rect x="2371.5" y="853.0" width="5" height="5" fill="#000"/>
<rect x="2391.5" y="853.0" width="5" height="5" fill="#000"/>
<rect x="2411.5" y="853.0" width="5" height="5" fill="#000"/>
<rect x="2431.5" y="853.0" width="5" height="5" fill="#000"/>
<rect x="2451.5" y="853.0" width="5" height="5" fill="#000"/>
<rect x="2471.5" y="853.0" width="5" height="5" fill="#000"/>
<rect x="2491.5" y="853.0" width="5" height="5" fill="#000"/>
<rect x="2511.5" y="853.0" width="5" height="5" fill="#000"/>
</svg></body></html>
